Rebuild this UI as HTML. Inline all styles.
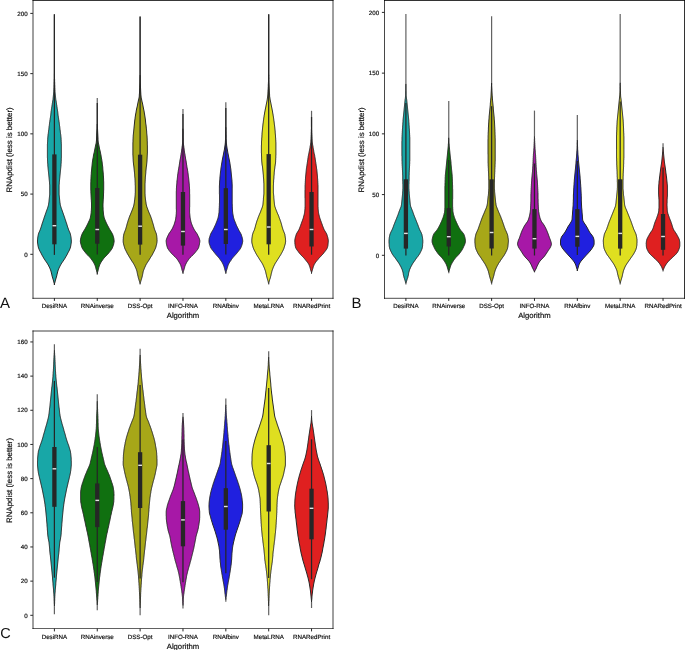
<!DOCTYPE html>
<html><head><meta charset="utf-8"><style>
html,body{margin:0;padding:0;background:#fff;}
body{width:685px;height:650px;overflow:hidden;}
svg{display:block;will-change:transform;font-family:"Liberation Sans",sans-serif;fill:#111;}
text{fill:#111;stroke:#111;stroke-width:0.18px;text-rendering:geometricPrecision;}
</style></head><body>
<svg width="685" height="650" viewBox="0 0 685 650" xmlns="http://www.w3.org/2000/svg">
<rect width="685" height="650" fill="#fff"/>
<path d="M54.4,73.7 L54.4,74.7 L54.3,75.7 L54.3,76.7 L54.3,77.7 L54.3,78.7 L54.2,79.7 L54.2,80.7 L54.2,81.7 L54.1,82.7 L54.1,83.7 L54.1,84.7 L54.0,85.7 L54.0,86.7 L54.0,87.7 L53.9,88.7 L53.9,89.6 L53.8,90.6 L53.8,91.6 L53.7,92.6 L53.6,93.6 L53.5,94.6 L53.4,95.6 L53.3,96.6 L53.2,97.6 L53.1,98.6 L53.0,99.6 L52.8,100.6 L52.6,101.6 L52.5,102.6 L52.3,103.6 L52.2,104.6 L52.0,105.6 L51.9,106.6 L51.7,107.6 L51.6,108.6 L51.4,109.6 L51.3,110.6 L51.1,111.6 L51.0,112.6 L50.9,113.6 L50.8,114.6 L50.7,115.6 L50.5,116.6 L50.4,117.6 L50.2,118.6 L50.1,119.5 L49.9,120.5 L49.8,121.5 L49.6,122.5 L49.5,123.5 L49.4,124.5 L49.3,125.5 L49.1,126.5 L49.0,127.5 L48.9,128.5 L48.8,129.5 L48.6,130.5 L48.5,131.5 L48.4,132.5 L48.3,133.5 L48.1,134.5 L48.0,135.5 L47.9,136.5 L47.8,137.5 L47.7,138.5 L47.7,139.5 L47.6,140.5 L47.6,141.5 L47.5,142.5 L47.5,143.5 L47.4,144.5 L47.4,145.5 L47.4,146.5 L47.4,147.5 L47.4,148.5 L47.4,149.5 L47.4,150.4 L47.4,151.4 L47.4,152.4 L47.4,153.4 L47.4,154.4 L47.4,155.4 L47.4,156.4 L47.4,157.4 L47.5,158.4 L47.5,159.4 L47.5,160.4 L47.6,161.4 L47.6,162.4 L47.7,163.4 L47.8,164.4 L47.8,165.4 L47.9,166.4 L48.0,167.4 L48.1,168.4 L48.2,169.4 L48.3,170.4 L48.4,171.4 L48.5,172.4 L48.6,173.4 L48.7,174.4 L48.8,175.4 L48.9,176.4 L49.0,177.4 L49.1,178.4 L49.2,179.4 L49.3,180.3 L49.4,181.3 L49.5,182.3 L49.5,183.3 L49.6,184.3 L49.7,185.3 L49.7,186.3 L49.7,187.3 L49.7,188.3 L49.7,189.3 L49.7,190.3 L49.7,191.3 L49.7,192.3 L49.7,193.3 L49.7,194.3 L49.6,195.3 L49.5,196.3 L49.4,197.3 L49.3,198.3 L49.2,199.3 L49.1,200.3 L49.0,201.3 L48.9,202.3 L48.7,203.3 L48.6,204.3 L48.4,205.3 L48.1,206.3 L47.8,207.3 L47.5,208.3 L47.1,209.3 L46.8,210.2 L46.4,211.2 L46.1,212.2 L45.7,213.2 L45.4,214.2 L45.0,215.2 L44.7,216.2 L44.3,217.2 L44.0,218.2 L43.7,219.2 L43.3,220.2 L43.0,221.2 L42.7,222.2 L42.3,223.2 L42.0,224.2 L41.7,225.2 L41.4,226.2 L41.1,227.2 L40.7,228.2 L40.4,229.2 L40.0,230.2 L39.6,231.2 L39.1,232.2 L38.7,233.2 L38.4,234.2 L38.2,235.2 L38.0,236.2 L37.8,237.2 L37.7,238.2 L37.6,239.2 L37.5,240.1 L37.5,241.1 L37.5,242.1 L37.6,243.1 L37.8,244.1 L37.9,245.1 L38.1,246.1 L38.3,247.1 L38.6,248.1 L39.0,249.1 L39.4,250.1 L39.9,251.1 L40.5,252.1 L41.0,253.1 L41.5,254.1 L42.0,255.1 L42.6,256.1 L43.2,257.1 L43.7,258.1 L44.4,259.1 L45.0,260.1 L45.7,261.1 L46.4,262.1 L47.1,263.1 L47.7,264.1 L48.3,265.1 L48.8,266.1 L49.3,267.1 L49.8,268.1 L50.2,269.1 L50.6,270.0 L50.9,271.0 L51.2,272.0 L51.4,273.0 L51.7,274.0 L51.9,275.0 L52.1,276.0 L52.4,277.0 L52.7,278.0 L53.0,279.0 L53.3,280.0 L53.6,281.0 L53.8,282.0 L54.1,283.0 L54.4,284.0 L54.4,285.0 L54.4,285.0 L54.4,284.0 L54.7,283.0 L55.0,282.0 L55.2,281.0 L55.5,280.0 L55.8,279.0 L56.1,278.0 L56.4,277.0 L56.7,276.0 L56.9,275.0 L57.1,274.0 L57.4,273.0 L57.6,272.0 L57.9,271.0 L58.2,270.0 L58.6,269.1 L59.0,268.1 L59.5,267.1 L60.0,266.1 L60.5,265.1 L61.1,264.1 L61.7,263.1 L62.4,262.1 L63.1,261.1 L63.8,260.1 L64.4,259.1 L65.1,258.1 L65.6,257.1 L66.2,256.1 L66.8,255.1 L67.3,254.1 L67.8,253.1 L68.3,252.1 L68.9,251.1 L69.4,250.1 L69.8,249.1 L70.2,248.1 L70.5,247.1 L70.7,246.1 L70.9,245.1 L71.0,244.1 L71.2,243.1 L71.3,242.1 L71.3,241.1 L71.3,240.1 L71.2,239.2 L71.1,238.2 L71.0,237.2 L70.8,236.2 L70.6,235.2 L70.4,234.2 L70.1,233.2 L69.7,232.2 L69.2,231.2 L68.8,230.2 L68.4,229.2 L68.1,228.2 L67.7,227.2 L67.4,226.2 L67.1,225.2 L66.8,224.2 L66.5,223.2 L66.1,222.2 L65.8,221.2 L65.5,220.2 L65.1,219.2 L64.8,218.2 L64.5,217.2 L64.1,216.2 L63.8,215.2 L63.4,214.2 L63.1,213.2 L62.7,212.2 L62.4,211.2 L62.0,210.2 L61.7,209.3 L61.3,208.3 L61.0,207.3 L60.7,206.3 L60.4,205.3 L60.2,204.3 L60.1,203.3 L59.9,202.3 L59.8,201.3 L59.7,200.3 L59.6,199.3 L59.5,198.3 L59.4,197.3 L59.3,196.3 L59.2,195.3 L59.1,194.3 L59.1,193.3 L59.1,192.3 L59.1,191.3 L59.1,190.3 L59.1,189.3 L59.1,188.3 L59.1,187.3 L59.1,186.3 L59.1,185.3 L59.2,184.3 L59.3,183.3 L59.3,182.3 L59.4,181.3 L59.5,180.3 L59.6,179.4 L59.7,178.4 L59.8,177.4 L59.9,176.4 L60.0,175.4 L60.1,174.4 L60.2,173.4 L60.3,172.4 L60.4,171.4 L60.5,170.4 L60.6,169.4 L60.7,168.4 L60.8,167.4 L60.9,166.4 L61.0,165.4 L61.0,164.4 L61.1,163.4 L61.2,162.4 L61.2,161.4 L61.3,160.4 L61.3,159.4 L61.3,158.4 L61.4,157.4 L61.4,156.4 L61.4,155.4 L61.4,154.4 L61.4,153.4 L61.4,152.4 L61.4,151.4 L61.4,150.4 L61.4,149.5 L61.4,148.5 L61.4,147.5 L61.4,146.5 L61.4,145.5 L61.4,144.5 L61.3,143.5 L61.3,142.5 L61.2,141.5 L61.2,140.5 L61.1,139.5 L61.1,138.5 L61.0,137.5 L60.9,136.5 L60.8,135.5 L60.7,134.5 L60.5,133.5 L60.4,132.5 L60.3,131.5 L60.2,130.5 L60.0,129.5 L59.9,128.5 L59.8,127.5 L59.7,126.5 L59.5,125.5 L59.4,124.5 L59.3,123.5 L59.2,122.5 L59.0,121.5 L58.9,120.5 L58.7,119.5 L58.6,118.6 L58.4,117.6 L58.3,116.6 L58.1,115.6 L58.0,114.6 L57.9,113.6 L57.8,112.6 L57.7,111.6 L57.5,110.6 L57.4,109.6 L57.2,108.6 L57.1,107.6 L56.9,106.6 L56.8,105.6 L56.6,104.6 L56.5,103.6 L56.3,102.6 L56.2,101.6 L56.0,100.6 L55.8,99.6 L55.7,98.6 L55.6,97.6 L55.5,96.6 L55.4,95.6 L55.3,94.6 L55.2,93.6 L55.1,92.6 L55.0,91.6 L55.0,90.6 L54.9,89.6 L54.9,88.7 L54.8,87.7 L54.8,86.7 L54.8,85.7 L54.7,84.7 L54.7,83.7 L54.7,82.7 L54.6,81.7 L54.6,80.7 L54.6,79.7 L54.5,78.7 L54.5,77.7 L54.5,76.7 L54.5,75.7 L54.4,74.7 L54.4,73.7Z" fill="#18a7a7" stroke="#262626" stroke-width="1.0" stroke-linejoin="round"/>
<line x1="54.40" y1="13.9" x2="54.40" y2="73.7" stroke="#262626" stroke-opacity="0.72" stroke-width="1.2"/>
<line x1="54.40" y1="14.5" x2="54.40" y2="254.9" stroke="#262626" stroke-width="1.25"/>
<rect x="52.25" y="154.4" width="4.3" height="89.90" fill="#262626"/>
<rect x="52.55" y="225.00" width="3.7" height="1.4" fill="#e4e4e4"/>
<path d="M97.2,124.0 L97.2,125.0 L97.1,126.0 L97.1,127.0 L97.0,128.0 L97.0,129.0 L96.9,130.0 L96.9,131.0 L96.8,132.0 L96.8,133.0 L96.7,134.0 L96.7,135.0 L96.7,136.0 L96.6,137.0 L96.6,138.0 L96.5,139.0 L96.5,140.0 L96.4,141.0 L96.3,142.0 L96.2,142.9 L96.0,143.9 L95.7,144.9 L95.5,145.9 L95.3,146.9 L95.1,147.9 L94.9,148.9 L94.7,149.9 L94.5,150.9 L94.3,151.9 L94.1,152.9 L93.8,153.9 L93.6,154.9 L93.4,155.9 L93.3,156.9 L93.1,157.9 L92.9,158.9 L92.7,159.9 L92.6,160.9 L92.4,161.9 L92.3,162.9 L92.2,163.9 L92.1,164.9 L92.0,165.9 L91.9,166.9 L91.8,167.9 L91.7,168.9 L91.6,169.9 L91.5,170.9 L91.4,171.9 L91.3,172.9 L91.3,173.9 L91.2,174.9 L91.1,175.9 L91.1,176.9 L91.0,177.9 L91.0,178.9 L90.9,179.9 L90.9,180.9 L90.9,181.9 L90.8,182.9 L90.8,183.9 L90.8,184.9 L90.8,185.9 L90.8,186.9 L90.8,187.9 L90.8,188.9 L90.8,189.9 L90.9,190.9 L90.9,191.9 L90.9,192.9 L91.0,193.9 L91.0,194.9 L91.1,195.9 L91.1,196.9 L91.2,197.9 L91.2,198.9 L91.3,199.9 L91.4,200.9 L91.4,201.9 L91.5,202.9 L91.5,203.9 L91.5,204.9 L91.5,205.9 L91.5,206.9 L91.5,207.9 L91.4,208.9 L91.4,209.9 L91.3,210.9 L91.2,211.9 L91.2,212.9 L91.0,213.9 L90.9,214.9 L90.7,215.9 L90.5,216.9 L90.3,217.9 L90.0,218.9 L89.6,219.9 L89.1,220.9 L88.6,221.9 L88.2,222.9 L87.7,223.9 L87.2,224.9 L86.7,225.9 L86.2,226.9 L85.6,227.9 L85.1,228.9 L84.5,229.9 L83.9,230.8 L83.3,231.8 L82.7,232.8 L82.2,233.8 L81.8,234.8 L81.4,235.8 L81.1,236.8 L80.9,237.8 L80.6,238.8 L80.5,239.8 L80.4,240.8 L80.4,241.8 L80.6,242.8 L80.8,243.8 L81.1,244.8 L81.4,245.8 L81.7,246.8 L82.1,247.8 L82.6,248.8 L83.3,249.8 L84.0,250.8 L84.8,251.8 L85.6,252.8 L86.4,253.8 L87.4,254.8 L88.4,255.8 L89.4,256.8 L90.3,257.8 L91.1,258.8 L91.8,259.8 L92.5,260.8 L93.2,261.8 L93.8,262.8 L94.3,263.8 L94.8,264.8 L95.2,265.8 L95.5,266.8 L95.8,267.8 L96.0,268.8 L96.3,269.8 L96.6,270.8 L96.8,271.8 L97.1,272.8 L97.3,273.8 L97.3,273.8 L97.4,272.8 L97.7,271.8 L98.0,270.8 L98.2,269.8 L98.5,268.8 L98.7,267.8 L99.0,266.8 L99.4,265.8 L99.7,264.8 L100.2,263.8 L100.7,262.8 L101.3,261.8 L102.0,260.8 L102.7,259.8 L103.4,258.8 L104.2,257.8 L105.2,256.8 L106.2,255.8 L107.1,254.8 L108.1,253.8 L108.9,252.8 L109.7,251.8 L110.5,250.8 L111.2,249.8 L111.9,248.8 L112.4,247.8 L112.8,246.8 L113.1,245.8 L113.5,244.8 L113.7,243.8 L113.9,242.8 L114.1,241.8 L114.1,240.8 L114.0,239.8 L113.9,238.8 L113.7,237.8 L113.4,236.8 L113.1,235.8 L112.8,234.8 L112.3,233.8 L111.8,232.8 L111.2,231.8 L110.6,230.8 L110.0,229.9 L109.4,228.9 L108.9,227.9 L108.4,226.9 L107.8,225.9 L107.3,224.9 L106.8,223.9 L106.3,222.9 L105.9,221.9 L105.4,220.9 L105.0,219.9 L104.6,218.9 L104.2,217.9 L104.0,216.9 L103.8,215.9 L103.6,214.9 L103.5,213.9 L103.4,212.9 L103.3,211.9 L103.2,210.9 L103.1,209.9 L103.1,208.9 L103.1,207.9 L103.0,206.9 L103.0,205.9 L103.0,204.9 L103.0,203.9 L103.1,202.9 L103.1,201.9 L103.2,200.9 L103.2,199.9 L103.3,198.9 L103.4,197.9 L103.4,196.9 L103.5,195.9 L103.5,194.9 L103.5,193.9 L103.6,192.9 L103.6,191.9 L103.6,190.9 L103.7,189.9 L103.7,188.9 L103.7,187.9 L103.7,186.9 L103.7,185.9 L103.7,184.9 L103.7,183.9 L103.7,182.9 L103.7,181.9 L103.6,180.9 L103.6,179.9 L103.6,178.9 L103.5,177.9 L103.5,176.9 L103.4,175.9 L103.3,174.9 L103.3,173.9 L103.2,172.9 L103.1,171.9 L103.0,170.9 L102.9,169.9 L102.8,168.9 L102.8,167.9 L102.7,166.9 L102.6,165.9 L102.4,164.9 L102.3,163.9 L102.2,162.9 L102.1,161.9 L101.9,160.9 L101.8,159.9 L101.6,158.9 L101.4,157.9 L101.2,156.9 L101.1,155.9 L100.9,154.9 L100.7,153.9 L100.5,152.9 L100.3,151.9 L100.1,150.9 L99.8,149.9 L99.6,148.9 L99.4,147.9 L99.2,146.9 L99.0,145.9 L98.8,144.9 L98.6,143.9 L98.4,142.9 L98.2,142.0 L98.1,141.0 L98.0,140.0 L98.0,139.0 L98.0,138.0 L97.9,137.0 L97.9,136.0 L97.8,135.0 L97.8,134.0 L97.7,133.0 L97.7,132.0 L97.6,131.0 L97.6,130.0 L97.5,129.0 L97.5,128.0 L97.4,127.0 L97.4,126.0 L97.3,125.0 L97.3,124.0Z" fill="#107010" stroke="#262626" stroke-width="1.0" stroke-linejoin="round"/>
<line x1="97.26" y1="98.0" x2="97.26" y2="124.0" stroke="#262626" stroke-opacity="0.72" stroke-width="1.2"/>
<line x1="97.26" y1="273.8" x2="97.26" y2="274.8" stroke="#262626" stroke-opacity="0.72" stroke-width="1.2"/>
<line x1="97.26" y1="103" x2="97.26" y2="254.6" stroke="#262626" stroke-width="1.25"/>
<rect x="95.11" y="188.0" width="4.3" height="55.70" fill="#262626"/>
<rect x="95.41" y="228.80" width="3.7" height="1.4" fill="#e4e4e4"/>
<path d="M140.1,75.1 L140.1,76.1 L140.0,77.1 L140.0,78.1 L140.0,79.1 L139.9,80.1 L139.9,81.1 L139.9,82.1 L139.8,83.1 L139.8,84.0 L139.8,85.0 L139.7,86.0 L139.7,87.0 L139.7,88.0 L139.6,89.0 L139.6,90.0 L139.6,91.0 L139.5,92.0 L139.5,93.0 L139.4,94.0 L139.3,95.0 L139.3,96.0 L139.2,97.0 L139.0,98.0 L138.8,99.0 L138.5,100.0 L138.3,101.0 L138.1,102.0 L137.9,103.0 L137.7,104.0 L137.5,105.0 L137.3,106.0 L137.1,107.0 L136.8,108.0 L136.6,109.0 L136.4,110.0 L136.2,111.0 L136.1,112.0 L135.9,113.0 L135.7,114.0 L135.5,115.0 L135.4,116.0 L135.2,117.0 L135.1,118.0 L135.0,119.0 L134.8,120.0 L134.7,121.0 L134.6,122.0 L134.5,123.0 L134.4,124.0 L134.3,125.0 L134.2,126.0 L134.1,127.0 L134.0,128.0 L133.9,128.9 L133.8,129.9 L133.7,130.9 L133.6,131.9 L133.5,132.9 L133.4,133.9 L133.3,134.9 L133.2,135.9 L133.2,136.9 L133.1,137.9 L133.1,138.9 L133.0,139.9 L133.0,140.9 L133.0,141.9 L132.9,142.9 L132.9,143.9 L132.9,144.9 L132.9,145.9 L132.9,146.9 L132.9,147.9 L132.9,148.9 L132.9,149.9 L132.9,150.9 L132.9,151.9 L132.9,152.9 L132.9,153.9 L132.9,154.9 L133.0,155.9 L133.0,156.9 L133.1,157.9 L133.1,158.9 L133.2,159.9 L133.2,160.9 L133.3,161.9 L133.4,162.9 L133.5,163.9 L133.6,164.9 L133.8,165.9 L133.9,166.9 L134.0,167.9 L134.1,168.9 L134.2,169.9 L134.3,170.9 L134.4,171.9 L134.5,172.8 L134.6,173.8 L134.7,174.8 L134.7,175.8 L134.8,176.8 L134.9,177.8 L135.0,178.8 L135.0,179.8 L135.1,180.8 L135.1,181.8 L135.2,182.8 L135.2,183.8 L135.2,184.8 L135.3,185.8 L135.3,186.8 L135.3,187.8 L135.3,188.8 L135.3,189.8 L135.3,190.8 L135.3,191.8 L135.3,192.8 L135.2,193.8 L135.2,194.8 L135.1,195.8 L135.0,196.8 L134.9,197.8 L134.8,198.8 L134.7,199.8 L134.5,200.8 L134.4,201.8 L134.3,202.8 L134.1,203.8 L133.9,204.8 L133.7,205.8 L133.4,206.8 L133.0,207.8 L132.7,208.8 L132.3,209.8 L131.9,210.8 L131.5,211.8 L131.1,212.8 L130.7,213.8 L130.3,214.8 L129.8,215.8 L129.5,216.8 L129.1,217.7 L128.8,218.7 L128.4,219.7 L128.1,220.7 L127.8,221.7 L127.5,222.7 L127.2,223.7 L126.9,224.7 L126.7,225.7 L126.4,226.7 L126.1,227.7 L125.8,228.7 L125.5,229.7 L125.1,230.7 L124.7,231.7 L124.3,232.7 L124.0,233.7 L123.7,234.7 L123.6,235.7 L123.4,236.7 L123.3,237.7 L123.3,238.7 L123.2,239.7 L123.2,240.7 L123.2,241.7 L123.3,242.7 L123.5,243.7 L123.7,244.7 L124.0,245.7 L124.3,246.7 L124.6,247.7 L124.9,248.7 L125.4,249.7 L125.9,250.7 L126.4,251.7 L126.9,252.7 L127.4,253.7 L128.0,254.7 L128.6,255.7 L129.2,256.7 L129.8,257.7 L130.4,258.7 L131.0,259.7 L131.6,260.7 L132.3,261.7 L132.9,262.6 L133.5,263.6 L134.1,264.6 L134.6,265.6 L135.1,266.6 L135.5,267.6 L136.0,268.6 L136.4,269.6 L136.7,270.6 L137.0,271.6 L137.2,272.6 L137.4,273.6 L137.6,274.6 L137.8,275.6 L138.1,276.6 L138.3,277.6 L138.6,278.6 L138.9,279.6 L139.2,280.6 L139.5,281.6 L139.8,282.6 L140.1,283.6 L140.1,283.6 L140.4,282.6 L140.7,281.6 L141.0,280.6 L141.3,279.6 L141.6,278.6 L141.9,277.6 L142.2,276.6 L142.4,275.6 L142.6,274.6 L142.8,273.6 L143.0,272.6 L143.2,271.6 L143.5,270.6 L143.9,269.6 L144.3,268.6 L144.7,267.6 L145.2,266.6 L145.6,265.6 L146.1,264.6 L146.7,263.6 L147.3,262.6 L147.9,261.7 L148.6,260.7 L149.2,259.7 L149.8,258.7 L150.4,257.7 L151.0,256.7 L151.7,255.7 L152.3,254.7 L152.8,253.7 L153.3,252.7 L153.8,251.7 L154.4,250.7 L154.8,249.7 L155.3,248.7 L155.7,247.7 L156.0,246.7 L156.2,245.7 L156.5,244.7 L156.7,243.7 L156.9,242.7 L157.0,241.7 L157.1,240.7 L157.0,239.7 L157.0,238.7 L156.9,237.7 L156.8,236.7 L156.7,235.7 L156.5,234.7 L156.3,233.7 L155.9,232.7 L155.5,231.7 L155.1,230.7 L154.7,229.7 L154.4,228.7 L154.1,227.7 L153.8,226.7 L153.6,225.7 L153.3,224.7 L153.0,223.7 L152.7,222.7 L152.4,221.7 L152.1,220.7 L151.8,219.7 L151.5,218.7 L151.1,217.7 L150.8,216.8 L150.4,215.8 L150.0,214.8 L149.5,213.8 L149.1,212.8 L148.7,211.8 L148.3,210.8 L147.9,209.8 L147.6,208.8 L147.2,207.8 L146.8,206.8 L146.6,205.8 L146.3,204.8 L146.1,203.8 L146.0,202.8 L145.8,201.8 L145.7,200.8 L145.5,199.8 L145.4,198.8 L145.3,197.8 L145.2,196.8 L145.1,195.8 L145.1,194.8 L145.0,193.8 L145.0,192.8 L145.0,191.8 L145.0,190.8 L145.0,189.8 L145.0,188.8 L145.0,187.8 L145.0,186.8 L145.0,185.8 L145.0,184.8 L145.0,183.8 L145.1,182.8 L145.1,181.8 L145.2,180.8 L145.2,179.8 L145.3,178.8 L145.3,177.8 L145.4,176.8 L145.5,175.8 L145.6,174.8 L145.7,173.8 L145.8,172.8 L145.8,171.9 L145.9,170.9 L146.0,169.9 L146.1,168.9 L146.2,167.9 L146.3,166.9 L146.5,165.9 L146.6,164.9 L146.7,163.9 L146.8,162.9 L146.9,161.9 L147.0,160.9 L147.0,159.9 L147.1,158.9 L147.1,157.9 L147.2,156.9 L147.2,155.9 L147.3,154.9 L147.3,153.9 L147.4,152.9 L147.4,151.9 L147.4,150.9 L147.4,149.9 L147.4,148.9 L147.4,147.9 L147.4,146.9 L147.4,145.9 L147.3,144.9 L147.3,143.9 L147.3,142.9 L147.3,141.9 L147.2,140.9 L147.2,139.9 L147.2,138.9 L147.1,137.9 L147.1,136.9 L147.0,135.9 L146.9,134.9 L146.8,133.9 L146.7,132.9 L146.7,131.9 L146.6,130.9 L146.5,129.9 L146.4,128.9 L146.3,128.0 L146.2,127.0 L146.1,126.0 L146.0,125.0 L145.8,124.0 L145.7,123.0 L145.6,122.0 L145.5,121.0 L145.4,120.0 L145.3,119.0 L145.1,118.0 L145.0,117.0 L144.8,116.0 L144.7,115.0 L144.5,114.0 L144.3,113.0 L144.2,112.0 L144.0,111.0 L143.8,110.0 L143.6,109.0 L143.4,108.0 L143.2,107.0 L143.0,106.0 L142.8,105.0 L142.6,104.0 L142.4,103.0 L142.1,102.0 L141.9,101.0 L141.7,100.0 L141.5,99.0 L141.2,98.0 L141.1,97.0 L141.0,96.0 L140.9,95.0 L140.8,94.0 L140.8,93.0 L140.7,92.0 L140.7,91.0 L140.6,90.0 L140.6,89.0 L140.5,88.0 L140.5,87.0 L140.5,86.0 L140.4,85.0 L140.4,84.0 L140.4,83.1 L140.3,82.1 L140.3,81.1 L140.3,80.1 L140.2,79.1 L140.2,78.1 L140.2,77.1 L140.2,76.1 L140.1,75.1Z" fill="#a7a718" stroke="#262626" stroke-width="1.0" stroke-linejoin="round"/>
<line x1="140.11" y1="16.2" x2="140.11" y2="75.1" stroke="#262626" stroke-opacity="0.72" stroke-width="1.2"/>
<line x1="140.11" y1="283.6" x2="140.11" y2="284.6" stroke="#262626" stroke-opacity="0.72" stroke-width="1.2"/>
<line x1="140.11" y1="16.8" x2="140.11" y2="254.7" stroke="#262626" stroke-width="1.25"/>
<rect x="137.96" y="154.7" width="4.3" height="89.90" fill="#262626"/>
<rect x="138.26" y="225.50" width="3.7" height="1.4" fill="#e4e4e4"/>
<path d="M182.9,128.9 L182.9,129.8 L182.9,130.8 L182.9,131.8 L182.9,132.8 L182.9,133.8 L182.8,134.8 L182.8,135.8 L182.8,136.8 L182.8,137.8 L182.8,138.8 L182.8,139.8 L182.7,140.8 L182.7,141.8 L182.6,142.8 L182.5,143.8 L182.4,144.8 L182.3,145.8 L182.1,146.8 L182.0,147.8 L181.9,148.8 L181.7,149.8 L181.6,150.8 L181.5,151.8 L181.3,152.8 L181.1,153.8 L181.0,154.8 L180.8,155.8 L180.7,156.8 L180.5,157.8 L180.3,158.8 L180.1,159.8 L179.9,160.8 L179.8,161.8 L179.6,162.8 L179.5,163.8 L179.3,164.8 L179.2,165.8 L179.0,166.8 L178.8,167.8 L178.7,168.8 L178.5,169.8 L178.3,170.7 L178.2,171.7 L178.0,172.7 L177.9,173.7 L177.7,174.7 L177.6,175.7 L177.5,176.7 L177.4,177.7 L177.3,178.7 L177.2,179.7 L177.0,180.7 L176.9,181.7 L176.9,182.7 L176.8,183.7 L176.7,184.7 L176.6,185.7 L176.5,186.7 L176.5,187.7 L176.4,188.7 L176.4,189.7 L176.4,190.7 L176.3,191.7 L176.3,192.7 L176.3,193.7 L176.3,194.7 L176.3,195.7 L176.3,196.7 L176.3,197.7 L176.3,198.7 L176.3,199.7 L176.3,200.7 L176.3,201.7 L176.3,202.7 L176.3,203.7 L176.3,204.7 L176.3,205.7 L176.3,206.7 L176.3,207.7 L176.3,208.7 L176.4,209.7 L176.4,210.7 L176.4,211.7 L176.3,212.6 L176.3,213.6 L176.2,214.6 L176.1,215.6 L176.0,216.6 L175.8,217.6 L175.7,218.6 L175.5,219.6 L175.3,220.6 L175.0,221.6 L174.7,222.6 L174.4,223.6 L174.1,224.6 L173.7,225.6 L173.2,226.6 L172.8,227.6 L172.3,228.6 L171.7,229.6 L171.1,230.6 L170.4,231.6 L169.7,232.6 L169.0,233.6 L168.5,234.6 L168.0,235.6 L167.5,236.6 L167.1,237.6 L166.7,238.6 L166.4,239.6 L166.2,240.6 L166.2,241.6 L166.3,242.6 L166.4,243.6 L166.6,244.6 L166.8,245.6 L167.1,246.6 L167.4,247.6 L167.8,248.6 L168.5,249.6 L169.2,250.6 L170.0,251.6 L170.8,252.6 L171.6,253.5 L172.6,254.5 L173.6,255.5 L174.7,256.5 L175.7,257.5 L176.6,258.5 L177.4,259.5 L178.1,260.5 L178.7,261.5 L179.3,262.5 L179.9,263.5 L180.4,264.5 L180.8,265.5 L181.1,266.5 L181.4,267.5 L181.7,268.5 L181.9,269.5 L182.2,270.5 L182.5,271.5 L182.9,272.5 L183.0,273.5 L183.0,273.5 L183.0,272.5 L183.4,271.5 L183.7,270.5 L184.0,269.5 L184.3,268.5 L184.6,267.5 L184.8,266.5 L185.2,265.5 L185.6,264.5 L186.1,263.5 L186.6,262.5 L187.2,261.5 L187.9,260.5 L188.6,259.5 L189.3,258.5 L190.2,257.5 L191.3,256.5 L192.3,255.5 L193.4,254.5 L194.3,253.5 L195.1,252.6 L195.9,251.6 L196.7,250.6 L197.5,249.6 L198.1,248.6 L198.6,247.6 L198.9,246.6 L199.1,245.6 L199.4,244.6 L199.5,243.6 L199.7,242.6 L199.8,241.6 L199.8,240.6 L199.6,239.6 L199.3,238.6 L198.9,237.6 L198.4,236.6 L197.9,235.6 L197.5,234.6 L196.9,233.6 L196.2,232.6 L195.5,231.6 L194.8,230.6 L194.2,229.6 L193.7,228.6 L193.2,227.6 L192.7,226.6 L192.3,225.6 L191.9,224.6 L191.5,223.6 L191.2,222.6 L190.9,221.6 L190.7,220.6 L190.5,219.6 L190.3,218.6 L190.1,217.6 L190.0,216.6 L189.9,215.6 L189.8,214.6 L189.7,213.6 L189.6,212.6 L189.6,211.7 L189.6,210.7 L189.6,209.7 L189.6,208.7 L189.6,207.7 L189.7,206.7 L189.7,205.7 L189.7,204.7 L189.7,203.7 L189.7,202.7 L189.7,201.7 L189.7,200.7 L189.7,199.7 L189.7,198.7 L189.7,197.7 L189.7,196.7 L189.7,195.7 L189.7,194.7 L189.6,193.7 L189.6,192.7 L189.6,191.7 L189.6,190.7 L189.6,189.7 L189.5,188.7 L189.5,187.7 L189.4,186.7 L189.3,185.7 L189.3,184.7 L189.2,183.7 L189.1,182.7 L189.0,181.7 L188.9,180.7 L188.8,179.7 L188.7,178.7 L188.6,177.7 L188.4,176.7 L188.3,175.7 L188.2,174.7 L188.1,173.7 L187.9,172.7 L187.8,171.7 L187.6,170.7 L187.5,169.8 L187.3,168.8 L187.1,167.8 L186.9,166.8 L186.8,165.8 L186.6,164.8 L186.5,163.8 L186.3,162.8 L186.2,161.8 L186.0,160.8 L185.8,159.8 L185.6,158.8 L185.5,157.8 L185.3,156.8 L185.1,155.8 L185.0,154.8 L184.8,153.8 L184.6,152.8 L184.5,151.8 L184.3,150.8 L184.2,149.8 L184.1,148.8 L183.9,147.8 L183.8,146.8 L183.7,145.8 L183.5,144.8 L183.4,143.8 L183.3,142.8 L183.2,141.8 L183.2,140.8 L183.2,139.8 L183.2,138.8 L183.1,137.8 L183.1,136.8 L183.1,135.8 L183.1,134.8 L183.1,133.8 L183.1,132.8 L183.1,131.8 L183.0,130.8 L183.0,129.8 L183.0,128.9Z" fill="#a718a7" stroke="#262626" stroke-width="1.0" stroke-linejoin="round"/>
<line x1="182.97" y1="108.9" x2="182.97" y2="128.9" stroke="#262626" stroke-opacity="0.72" stroke-width="1.2"/>
<line x1="182.97" y1="114" x2="182.97" y2="254.7" stroke="#262626" stroke-width="1.25"/>
<rect x="180.82" y="192.0" width="4.3" height="53.60" fill="#262626"/>
<rect x="181.12" y="230.80" width="3.7" height="1.4" fill="#e4e4e4"/>
<path d="M225.8,127.1 L225.8,128.1 L225.8,129.1 L225.7,130.1 L225.7,131.1 L225.7,132.1 L225.7,133.1 L225.6,134.1 L225.6,135.1 L225.6,136.1 L225.6,137.1 L225.5,138.1 L225.5,139.0 L225.5,140.0 L225.4,141.0 L225.4,142.0 L225.3,143.0 L225.2,144.0 L225.1,145.0 L224.9,146.0 L224.8,147.0 L224.6,148.0 L224.5,149.0 L224.3,150.0 L224.1,151.0 L223.9,152.0 L223.7,153.0 L223.5,154.0 L223.3,155.0 L223.1,156.0 L222.9,157.0 L222.7,158.0 L222.5,159.0 L222.3,160.0 L222.1,161.0 L222.0,162.0 L221.8,163.0 L221.6,163.9 L221.5,164.9 L221.3,165.9 L221.2,166.9 L221.0,167.9 L220.9,168.9 L220.8,169.9 L220.7,170.9 L220.5,171.9 L220.4,172.9 L220.3,173.9 L220.2,174.9 L220.1,175.9 L220.0,176.9 L219.9,177.9 L219.9,178.9 L219.8,179.9 L219.7,180.9 L219.6,181.9 L219.6,182.9 L219.5,183.9 L219.5,184.9 L219.4,185.9 L219.4,186.9 L219.4,187.9 L219.4,188.8 L219.4,189.8 L219.4,190.8 L219.4,191.8 L219.4,192.8 L219.4,193.8 L219.5,194.8 L219.5,195.8 L219.5,196.8 L219.5,197.8 L219.5,198.8 L219.5,199.8 L219.5,200.8 L219.5,201.8 L219.5,202.8 L219.4,203.8 L219.4,204.8 L219.4,205.8 L219.3,206.8 L219.3,207.8 L219.2,208.8 L219.2,209.8 L219.1,210.8 L219.1,211.8 L219.0,212.7 L218.8,213.7 L218.7,214.7 L218.5,215.7 L218.3,216.7 L218.1,217.7 L217.8,218.7 L217.4,219.7 L217.1,220.7 L216.7,221.7 L216.3,222.7 L215.9,223.7 L215.5,224.7 L215.0,225.7 L214.5,226.7 L214.1,227.7 L213.6,228.7 L213.1,229.7 L212.5,230.7 L211.9,231.7 L211.3,232.7 L210.8,233.7 L210.4,234.7 L210.1,235.7 L209.8,236.7 L209.5,237.6 L209.2,238.6 L209.1,239.6 L209.0,240.6 L209.0,241.6 L209.1,242.6 L209.3,243.6 L209.6,244.6 L210.0,245.6 L210.3,246.6 L210.7,247.6 L211.3,248.6 L212.0,249.6 L212.8,250.6 L213.6,251.6 L214.4,252.6 L215.2,253.6 L216.0,254.6 L216.9,255.6 L217.8,256.6 L218.7,257.6 L219.5,258.6 L220.2,259.6 L220.9,260.6 L221.6,261.5 L222.2,262.5 L222.7,263.5 L223.2,264.5 L223.6,265.5 L224.0,266.5 L224.3,267.5 L224.6,268.5 L224.8,269.5 L225.1,270.5 L225.4,271.5 L225.8,272.5 L225.8,273.5 L225.8,273.5 L225.9,272.5 L226.2,271.5 L226.5,270.5 L226.8,269.5 L227.1,268.5 L227.4,267.5 L227.7,266.5 L228.0,265.5 L228.4,264.5 L228.9,263.5 L229.5,262.5 L230.1,261.5 L230.8,260.6 L231.4,259.6 L232.1,258.6 L232.9,257.6 L233.8,256.6 L234.7,255.6 L235.6,254.6 L236.5,253.6 L237.3,252.6 L238.1,251.6 L238.9,250.6 L239.7,249.6 L240.4,248.6 L240.9,247.6 L241.3,246.6 L241.7,245.6 L242.0,244.6 L242.3,243.6 L242.5,242.6 L242.7,241.6 L242.7,240.6 L242.6,239.6 L242.4,238.6 L242.2,237.6 L241.9,236.7 L241.6,235.7 L241.3,234.7 L240.8,233.7 L240.3,232.7 L239.7,231.7 L239.1,230.7 L238.6,229.7 L238.1,228.7 L237.6,227.7 L237.1,226.7 L236.6,225.7 L236.2,224.7 L235.8,223.7 L235.4,222.7 L235.0,221.7 L234.6,220.7 L234.2,219.7 L233.9,218.7 L233.6,217.7 L233.4,216.7 L233.2,215.7 L233.0,214.7 L232.8,213.7 L232.7,212.7 L232.6,211.8 L232.5,210.8 L232.5,209.8 L232.4,208.8 L232.4,207.8 L232.3,206.8 L232.3,205.8 L232.3,204.8 L232.2,203.8 L232.2,202.8 L232.2,201.8 L232.2,200.8 L232.2,199.8 L232.2,198.8 L232.2,197.8 L232.2,196.8 L232.2,195.8 L232.2,194.8 L232.2,193.8 L232.2,192.8 L232.2,191.8 L232.2,190.8 L232.2,189.8 L232.2,188.8 L232.2,187.9 L232.2,186.9 L232.2,185.9 L232.2,184.9 L232.1,183.9 L232.1,182.9 L232.0,181.9 L232.0,180.9 L231.9,179.9 L231.8,178.9 L231.7,177.9 L231.6,176.9 L231.5,175.9 L231.4,174.9 L231.3,173.9 L231.2,172.9 L231.1,171.9 L231.0,170.9 L230.9,169.9 L230.8,168.9 L230.6,167.9 L230.5,166.9 L230.3,165.9 L230.2,164.9 L230.0,163.9 L229.9,163.0 L229.7,162.0 L229.5,161.0 L229.3,160.0 L229.1,159.0 L228.9,158.0 L228.7,157.0 L228.5,156.0 L228.3,155.0 L228.1,154.0 L227.9,153.0 L227.7,152.0 L227.6,151.0 L227.4,150.0 L227.2,149.0 L227.0,148.0 L226.9,147.0 L226.7,146.0 L226.6,145.0 L226.5,144.0 L226.3,143.0 L226.3,142.0 L226.2,141.0 L226.2,140.0 L226.1,139.0 L226.1,138.1 L226.1,137.1 L226.1,136.1 L226.1,135.1 L226.0,134.1 L226.0,133.1 L226.0,132.1 L225.9,131.1 L225.9,130.1 L225.9,129.1 L225.9,128.1 L225.8,127.1Z" fill="#2020df" stroke="#262626" stroke-width="1.0" stroke-linejoin="round"/>
<line x1="225.83" y1="102.2" x2="225.83" y2="127.1" stroke="#262626" stroke-opacity="0.72" stroke-width="1.2"/>
<line x1="225.83" y1="108" x2="225.83" y2="254.5" stroke="#262626" stroke-width="1.25"/>
<rect x="223.68" y="188.2" width="4.3" height="55.80" fill="#262626"/>
<rect x="223.98" y="228.80" width="3.7" height="1.4" fill="#e4e4e4"/>
<path d="M268.7,74.9 L268.7,75.9 L268.6,76.9 L268.6,77.9 L268.6,78.9 L268.5,79.9 L268.5,80.9 L268.5,81.9 L268.4,82.9 L268.4,83.9 L268.3,84.9 L268.3,85.9 L268.3,86.9 L268.2,87.9 L268.2,88.9 L268.1,89.9 L268.0,90.9 L268.0,91.9 L267.9,92.9 L267.9,93.9 L267.8,94.9 L267.7,95.9 L267.6,96.9 L267.5,97.9 L267.3,98.9 L267.2,99.9 L267.0,100.9 L266.8,101.9 L266.6,102.9 L266.4,103.9 L266.2,104.9 L266.0,105.9 L265.8,106.9 L265.6,107.9 L265.4,108.9 L265.2,109.9 L265.0,110.9 L264.8,111.9 L264.6,112.9 L264.5,113.9 L264.3,114.9 L264.1,115.8 L264.0,116.8 L263.8,117.8 L263.7,118.8 L263.6,119.8 L263.4,120.8 L263.3,121.8 L263.2,122.8 L263.0,123.8 L262.9,124.8 L262.8,125.8 L262.7,126.8 L262.6,127.8 L262.5,128.8 L262.4,129.8 L262.3,130.8 L262.2,131.8 L262.1,132.8 L262.0,133.8 L262.0,134.8 L261.9,135.8 L261.9,136.8 L261.8,137.8 L261.7,138.8 L261.7,139.8 L261.6,140.8 L261.5,141.8 L261.5,142.8 L261.5,143.8 L261.5,144.8 L261.4,145.8 L261.4,146.8 L261.4,147.8 L261.4,148.8 L261.4,149.8 L261.4,150.8 L261.4,151.8 L261.4,152.8 L261.5,153.8 L261.5,154.8 L261.5,155.8 L261.6,156.8 L261.6,157.8 L261.6,158.8 L261.7,159.8 L261.7,160.8 L261.8,161.8 L261.9,162.8 L262.0,163.8 L262.1,164.8 L262.3,165.8 L262.5,166.8 L262.6,167.8 L262.7,168.8 L262.8,169.8 L262.9,170.8 L263.0,171.8 L263.1,172.8 L263.2,173.8 L263.3,174.8 L263.4,175.8 L263.4,176.8 L263.5,177.8 L263.6,178.8 L263.7,179.8 L263.7,180.8 L263.8,181.8 L263.8,182.8 L263.9,183.7 L263.9,184.7 L263.9,185.7 L263.9,186.7 L263.9,187.7 L263.9,188.7 L263.9,189.7 L263.9,190.7 L263.9,191.7 L263.9,192.7 L263.9,193.7 L263.8,194.7 L263.7,195.7 L263.6,196.7 L263.5,197.7 L263.4,198.7 L263.4,199.7 L263.3,200.7 L263.2,201.7 L263.1,202.7 L263.0,203.7 L262.9,204.7 L262.7,205.7 L262.4,206.7 L262.1,207.7 L261.7,208.7 L261.3,209.7 L260.9,210.7 L260.6,211.7 L260.2,212.7 L259.7,213.7 L259.3,214.7 L258.9,215.7 L258.5,216.7 L258.1,217.7 L257.8,218.7 L257.4,219.7 L257.0,220.7 L256.7,221.7 L256.4,222.7 L256.1,223.7 L255.8,224.7 L255.5,225.7 L255.3,226.7 L255.0,227.7 L254.7,228.7 L254.4,229.7 L254.0,230.7 L253.5,231.7 L253.1,232.7 L252.8,233.7 L252.5,234.7 L252.3,235.7 L252.2,236.7 L252.0,237.7 L251.9,238.7 L251.8,239.7 L251.8,240.7 L251.8,241.7 L251.9,242.7 L252.1,243.7 L252.4,244.7 L252.6,245.7 L252.9,246.7 L253.2,247.7 L253.6,248.7 L254.0,249.7 L254.5,250.7 L255.0,251.6 L255.5,252.6 L256.0,253.6 L256.6,254.6 L257.2,255.6 L257.8,256.6 L258.5,257.6 L259.1,258.6 L259.7,259.6 L260.4,260.6 L261.0,261.6 L261.7,262.6 L262.3,263.6 L262.8,264.6 L263.3,265.6 L263.7,266.6 L264.2,267.6 L264.6,268.6 L264.9,269.6 L265.3,270.6 L265.6,271.6 L265.8,272.6 L266.0,273.6 L266.3,274.6 L266.5,275.6 L266.7,276.6 L267.0,277.6 L267.3,278.6 L267.6,279.6 L267.9,280.6 L268.2,281.6 L268.4,282.6 L268.7,283.6 L268.7,283.6 L268.9,282.6 L269.2,281.6 L269.5,280.6 L269.7,279.6 L270.1,278.6 L270.4,277.6 L270.6,276.6 L270.9,275.6 L271.1,274.6 L271.3,273.6 L271.6,272.6 L271.8,271.6 L272.1,270.6 L272.4,269.6 L272.8,268.6 L273.2,267.6 L273.6,266.6 L274.1,265.6 L274.6,264.6 L275.1,263.6 L275.7,262.6 L276.4,261.6 L277.0,260.6 L277.6,259.6 L278.3,258.6 L278.9,257.6 L279.5,256.6 L280.2,255.6 L280.8,254.6 L281.3,253.6 L281.9,252.6 L282.4,251.6 L282.9,250.7 L283.3,249.7 L283.8,248.7 L284.1,247.7 L284.4,246.7 L284.7,245.7 L285.0,244.7 L285.3,243.7 L285.4,242.7 L285.6,241.7 L285.6,240.7 L285.5,239.7 L285.5,238.7 L285.3,237.7 L285.2,236.7 L285.0,235.7 L284.9,234.7 L284.6,233.7 L284.2,232.7 L283.8,231.7 L283.4,230.7 L283.0,229.7 L282.7,228.7 L282.4,227.7 L282.1,226.7 L281.8,225.7 L281.6,224.7 L281.3,223.7 L281.0,222.7 L280.7,221.7 L280.3,220.7 L280.0,219.7 L279.6,218.7 L279.2,217.7 L278.9,216.7 L278.5,215.7 L278.1,214.7 L277.6,213.7 L277.2,212.7 L276.8,211.7 L276.4,210.7 L276.0,209.7 L275.6,208.7 L275.3,207.7 L274.9,206.7 L274.7,205.7 L274.5,204.7 L274.4,203.7 L274.3,202.7 L274.2,201.7 L274.1,200.7 L274.0,199.7 L273.9,198.7 L273.8,197.7 L273.8,196.7 L273.7,195.7 L273.6,194.7 L273.5,193.7 L273.4,192.7 L273.4,191.7 L273.4,190.7 L273.4,189.7 L273.4,188.7 L273.4,187.7 L273.4,186.7 L273.4,185.7 L273.5,184.7 L273.5,183.7 L273.5,182.8 L273.6,181.8 L273.6,180.8 L273.7,179.8 L273.8,178.8 L273.9,177.8 L273.9,176.8 L274.0,175.8 L274.1,174.8 L274.2,173.8 L274.2,172.8 L274.3,171.8 L274.4,170.8 L274.5,169.8 L274.7,168.8 L274.8,167.8 L274.9,166.8 L275.1,165.8 L275.2,164.8 L275.4,163.8 L275.5,162.8 L275.6,161.8 L275.6,160.8 L275.7,159.8 L275.7,158.8 L275.8,157.8 L275.8,156.8 L275.8,155.8 L275.9,154.8 L275.9,153.8 L275.9,152.8 L275.9,151.8 L275.9,150.8 L275.9,149.8 L275.9,148.8 L275.9,147.8 L275.9,146.8 L275.9,145.8 L275.9,144.8 L275.9,143.8 L275.9,142.8 L275.8,141.8 L275.8,140.8 L275.7,139.8 L275.7,138.8 L275.6,137.8 L275.5,136.8 L275.5,135.8 L275.4,134.8 L275.3,133.8 L275.2,132.8 L275.2,131.8 L275.1,130.8 L275.0,129.8 L274.9,128.8 L274.8,127.8 L274.7,126.8 L274.6,125.8 L274.4,124.8 L274.3,123.8 L274.2,122.8 L274.1,121.8 L273.9,120.8 L273.8,119.8 L273.7,118.8 L273.5,117.8 L273.4,116.8 L273.2,115.8 L273.1,114.9 L272.9,113.9 L272.7,112.9 L272.6,111.9 L272.4,110.9 L272.2,109.9 L272.0,108.9 L271.8,107.9 L271.6,106.9 L271.4,105.9 L271.2,104.9 L271.0,103.9 L270.8,102.9 L270.6,101.9 L270.4,100.9 L270.2,99.9 L270.0,98.9 L269.9,97.9 L269.7,96.9 L269.6,95.9 L269.6,94.9 L269.5,93.9 L269.4,92.9 L269.4,91.9 L269.3,90.9 L269.3,89.9 L269.2,88.9 L269.2,87.9 L269.1,86.9 L269.1,85.9 L269.0,84.9 L269.0,83.9 L268.9,82.9 L268.9,81.9 L268.9,80.9 L268.8,79.9 L268.8,78.9 L268.8,77.9 L268.7,76.9 L268.7,75.9 L268.7,74.9Z" fill="#dfdf20" stroke="#262626" stroke-width="1.0" stroke-linejoin="round"/>
<line x1="268.69" y1="14.0" x2="268.69" y2="74.9" stroke="#262626" stroke-opacity="0.72" stroke-width="1.2"/>
<line x1="268.69" y1="283.6" x2="268.69" y2="284.6" stroke="#262626" stroke-opacity="0.72" stroke-width="1.2"/>
<line x1="268.69" y1="14.6" x2="268.69" y2="254.7" stroke="#262626" stroke-width="1.25"/>
<rect x="266.54" y="154.1" width="4.3" height="90.20" fill="#262626"/>
<rect x="266.83" y="226.30" width="3.7" height="1.4" fill="#e4e4e4"/>
<path d="M311.5,126.8 L311.5,127.8 L311.5,128.8 L311.4,129.8 L311.4,130.8 L311.4,131.8 L311.3,132.8 L311.3,133.8 L311.3,134.8 L311.2,135.8 L311.2,136.8 L311.1,137.8 L311.1,138.7 L311.0,139.7 L310.9,140.7 L310.9,141.7 L310.8,142.7 L310.6,143.7 L310.5,144.7 L310.3,145.7 L310.1,146.7 L310.0,147.7 L309.8,148.7 L309.6,149.7 L309.4,150.7 L309.2,151.7 L309.0,152.7 L308.8,153.7 L308.6,154.7 L308.4,155.7 L308.2,156.7 L308.1,157.7 L307.9,158.7 L307.8,159.7 L307.6,160.7 L307.5,161.7 L307.3,162.7 L307.2,163.7 L307.0,164.7 L306.9,165.7 L306.7,166.7 L306.6,167.7 L306.4,168.7 L306.3,169.7 L306.2,170.7 L306.1,171.7 L306.0,172.7 L305.9,173.7 L305.8,174.7 L305.7,175.7 L305.6,176.7 L305.5,177.7 L305.5,178.7 L305.4,179.7 L305.4,180.7 L305.3,181.7 L305.3,182.7 L305.2,183.7 L305.2,184.7 L305.1,185.7 L305.1,186.7 L305.1,187.7 L305.1,188.7 L305.1,189.7 L305.0,190.7 L305.0,191.7 L305.0,192.6 L305.0,193.6 L305.0,194.6 L305.0,195.6 L305.0,196.6 L305.0,197.6 L305.1,198.6 L305.1,199.6 L305.1,200.6 L305.1,201.6 L305.1,202.6 L305.1,203.6 L305.1,204.6 L305.1,205.6 L305.1,206.6 L305.0,207.6 L305.0,208.6 L304.9,209.6 L304.8,210.6 L304.7,211.6 L304.6,212.6 L304.4,213.6 L304.2,214.6 L303.9,215.6 L303.6,216.6 L303.4,217.6 L303.1,218.6 L302.7,219.6 L302.4,220.6 L302.0,221.6 L301.6,222.6 L301.3,223.6 L300.9,224.6 L300.6,225.6 L300.2,226.6 L299.8,227.6 L299.4,228.6 L299.0,229.6 L298.4,230.6 L297.8,231.6 L297.2,232.6 L296.6,233.6 L296.2,234.6 L295.9,235.6 L295.6,236.6 L295.3,237.6 L295.1,238.6 L294.9,239.6 L294.8,240.6 L294.8,241.6 L294.9,242.6 L294.9,243.6 L295.1,244.6 L295.2,245.6 L295.4,246.5 L295.6,247.5 L296.1,248.5 L296.7,249.5 L297.4,250.5 L298.2,251.5 L298.9,252.5 L299.7,253.5 L300.6,254.5 L301.5,255.5 L302.5,256.5 L303.5,257.5 L304.4,258.5 L305.2,259.5 L306.0,260.5 L306.8,261.5 L307.6,262.5 L308.3,263.5 L308.9,264.5 L309.3,265.5 L309.7,266.5 L310.0,267.5 L310.3,268.5 L310.5,269.5 L310.8,270.5 L311.2,271.5 L311.5,272.5 L311.5,273.5 L311.5,273.5 L311.6,272.5 L311.9,271.5 L312.2,270.5 L312.5,269.5 L312.8,268.5 L313.1,267.5 L313.4,266.5 L313.8,265.5 L314.2,264.5 L314.8,263.5 L315.5,262.5 L316.2,261.5 L317.0,260.5 L317.9,259.5 L318.7,258.5 L319.6,257.5 L320.6,256.5 L321.5,255.5 L322.5,254.5 L323.4,253.5 L324.1,252.5 L324.9,251.5 L325.7,250.5 L326.4,249.5 L327.0,248.5 L327.4,247.5 L327.7,246.5 L327.9,245.6 L328.0,244.6 L328.1,243.6 L328.2,242.6 L328.3,241.6 L328.3,240.6 L328.2,239.6 L328.0,238.6 L327.8,237.6 L327.5,236.6 L327.2,235.6 L326.9,234.6 L326.5,233.6 L325.9,232.6 L325.3,231.6 L324.7,230.6 L324.1,229.6 L323.7,228.6 L323.3,227.6 L322.9,226.6 L322.5,225.6 L322.2,224.6 L321.8,223.6 L321.4,222.6 L321.1,221.6 L320.7,220.6 L320.4,219.6 L320.0,218.6 L319.7,217.6 L319.4,216.6 L319.2,215.6 L318.9,214.6 L318.7,213.6 L318.5,212.6 L318.4,211.6 L318.3,210.6 L318.2,209.6 L318.1,208.6 L318.1,207.6 L318.0,206.6 L318.0,205.6 L318.0,204.6 L318.0,203.6 L318.0,202.6 L318.0,201.6 L318.0,200.6 L318.0,199.6 L318.0,198.6 L318.0,197.6 L318.0,196.6 L318.0,195.6 L318.0,194.6 L318.0,193.6 L318.0,192.6 L318.0,191.7 L318.0,190.7 L318.0,189.7 L318.0,188.7 L318.0,187.7 L318.0,186.7 L318.0,185.7 L317.9,184.7 L317.9,183.7 L317.8,182.7 L317.8,181.7 L317.7,180.7 L317.7,179.7 L317.6,178.7 L317.5,177.7 L317.5,176.7 L317.4,175.7 L317.3,174.7 L317.2,173.7 L317.1,172.7 L317.0,171.7 L316.9,170.7 L316.8,169.7 L316.6,168.7 L316.5,167.7 L316.4,166.7 L316.2,165.7 L316.1,164.7 L315.9,163.7 L315.8,162.7 L315.6,161.7 L315.5,160.7 L315.3,159.7 L315.2,158.7 L315.0,157.7 L314.8,156.7 L314.7,155.7 L314.5,154.7 L314.2,153.7 L314.0,152.7 L313.8,151.7 L313.7,150.7 L313.5,149.7 L313.3,148.7 L313.1,147.7 L313.0,146.7 L312.8,145.7 L312.6,144.7 L312.5,143.7 L312.3,142.7 L312.2,141.7 L312.1,140.7 L312.1,139.7 L312.0,138.7 L312.0,137.8 L311.9,136.8 L311.9,135.8 L311.8,134.8 L311.8,133.8 L311.7,132.8 L311.7,131.8 L311.7,130.8 L311.6,129.8 L311.6,128.8 L311.6,127.8 L311.6,126.8Z" fill="#df2020" stroke="#262626" stroke-width="1.0" stroke-linejoin="round"/>
<line x1="311.54" y1="110.8" x2="311.54" y2="126.8" stroke="#262626" stroke-opacity="0.72" stroke-width="1.2"/>
<line x1="311.54" y1="117" x2="311.54" y2="254.7" stroke="#262626" stroke-width="1.25"/>
<rect x="309.39" y="192.0" width="4.3" height="54.50" fill="#262626"/>
<rect x="309.69" y="228.80" width="3.7" height="1.4" fill="#e4e4e4"/>
<line x1="32.5" y1="0.5" x2="333.5" y2="0.5" stroke="#000" stroke-opacity="0.78" stroke-width="1.0"/>
<line x1="32.5" y1="298.3" x2="333.5" y2="298.3" stroke="#000" stroke-opacity="0.7" stroke-width="1.0"/>
<line x1="33.0" y1="0" x2="33.0" y2="298.8" stroke="#000" stroke-opacity="0.75" stroke-width="1.0"/>
<line x1="333.0" y1="0" x2="333.0" y2="298.8" stroke="#000" stroke-opacity="0.75" stroke-width="1.0"/>
<line x1="30.30" y1="254.30" x2="32.90" y2="254.30" stroke="#1a1a1a" stroke-width="0.95"/>
<text x="27.60" y="256.50" text-anchor="end" font-size="6.2">0</text>
<line x1="30.30" y1="194.08" x2="32.90" y2="194.08" stroke="#1a1a1a" stroke-width="0.95"/>
<text x="27.60" y="196.28" text-anchor="end" font-size="6.2">50</text>
<line x1="30.30" y1="133.85" x2="32.90" y2="133.85" stroke="#1a1a1a" stroke-width="0.95"/>
<text x="27.60" y="136.05" text-anchor="end" font-size="6.2">100</text>
<line x1="30.30" y1="73.63" x2="32.90" y2="73.63" stroke="#1a1a1a" stroke-width="0.95"/>
<text x="27.60" y="75.83" text-anchor="end" font-size="6.2">150</text>
<line x1="30.30" y1="13.40" x2="32.90" y2="13.40" stroke="#1a1a1a" stroke-width="0.95"/>
<text x="27.60" y="15.60" text-anchor="end" font-size="6.2">200</text>
<line x1="54.40" y1="298.10" x2="54.40" y2="300.90" stroke="#1a1a1a" stroke-width="0.95"/>
<text x="54.40" y="308.40" text-anchor="middle" font-size="6.2">DesiRNA</text>
<line x1="97.26" y1="298.10" x2="97.26" y2="300.90" stroke="#1a1a1a" stroke-width="0.95"/>
<text x="97.26" y="308.40" text-anchor="middle" font-size="6.2">RNAinverse</text>
<line x1="140.11" y1="298.10" x2="140.11" y2="300.90" stroke="#1a1a1a" stroke-width="0.95"/>
<text x="140.11" y="308.40" text-anchor="middle" font-size="6.2">DSS-Opt</text>
<line x1="182.97" y1="298.10" x2="182.97" y2="300.90" stroke="#1a1a1a" stroke-width="0.95"/>
<text x="182.97" y="308.40" text-anchor="middle" font-size="6.2">INFO-RNA</text>
<line x1="225.83" y1="298.10" x2="225.83" y2="300.90" stroke="#1a1a1a" stroke-width="0.95"/>
<text x="225.83" y="308.40" text-anchor="middle" font-size="6.2">RNAfbinv</text>
<line x1="268.69" y1="298.10" x2="268.69" y2="300.90" stroke="#1a1a1a" stroke-width="0.95"/>
<text x="268.69" y="308.40" text-anchor="middle" font-size="6.2">MetaLRNA</text>
<line x1="311.54" y1="298.10" x2="311.54" y2="300.90" stroke="#1a1a1a" stroke-width="0.95"/>
<text x="311.54" y="308.40" text-anchor="middle" font-size="6.2">RNARedPrint</text>
<text x="183" y="318" text-anchor="middle" font-size="7.7">Algorithm</text>
<text transform="translate(12.4,149.9) rotate(-90)" text-anchor="middle" font-size="7.9">RNApdist (less is better)</text>
<text x="-0.1" y="307.7" font-size="15" style="stroke-width:0">A</text>
<path d="M405.9,83.8 L405.9,84.8 L405.8,85.8 L405.8,86.8 L405.8,87.8 L405.8,88.8 L405.8,89.8 L405.8,90.8 L405.7,91.8 L405.7,92.8 L405.7,93.8 L405.7,94.8 L405.6,95.7 L405.5,96.7 L405.4,97.7 L405.3,98.7 L405.1,99.7 L405.0,100.7 L404.9,101.7 L404.8,102.7 L404.7,103.7 L404.6,104.7 L404.5,105.7 L404.4,106.7 L404.3,107.7 L404.2,108.7 L404.1,109.7 L404.0,110.7 L403.9,111.7 L403.8,112.7 L403.7,113.7 L403.6,114.7 L403.5,115.7 L403.4,116.7 L403.3,117.7 L403.2,118.7 L403.1,119.7 L403.0,120.7 L403.0,121.7 L402.9,122.7 L402.8,123.7 L402.8,124.7 L402.7,125.7 L402.6,126.7 L402.6,127.7 L402.5,128.7 L402.4,129.7 L402.4,130.7 L402.3,131.7 L402.3,132.7 L402.2,133.7 L402.2,134.7 L402.1,135.7 L402.1,136.7 L402.0,137.7 L402.0,138.7 L402.0,139.7 L402.0,140.7 L401.9,141.7 L401.9,142.7 L401.9,143.7 L401.9,144.7 L401.9,145.7 L401.9,146.7 L401.9,147.7 L401.9,148.7 L401.9,149.6 L401.9,150.6 L401.9,151.6 L401.9,152.6 L401.9,153.6 L401.9,154.6 L401.9,155.6 L402.0,156.6 L402.0,157.6 L402.0,158.6 L402.0,159.6 L402.0,160.6 L402.1,161.6 L402.1,162.6 L402.1,163.6 L402.2,164.6 L402.2,165.6 L402.3,166.6 L402.3,167.6 L402.4,168.6 L402.4,169.6 L402.5,170.6 L402.5,171.6 L402.6,172.6 L402.6,173.6 L402.6,174.6 L402.7,175.6 L402.7,176.6 L402.7,177.6 L402.7,178.6 L402.7,179.6 L402.7,180.6 L402.8,181.6 L402.8,182.6 L402.8,183.6 L402.9,184.6 L402.9,185.6 L402.9,186.6 L402.9,187.6 L402.9,188.6 L402.8,189.6 L402.8,190.6 L402.7,191.6 L402.6,192.6 L402.6,193.6 L402.5,194.6 L402.4,195.6 L402.3,196.6 L402.2,197.6 L402.1,198.6 L402.0,199.6 L401.9,200.6 L401.8,201.6 L401.7,202.6 L401.6,203.5 L401.5,204.5 L401.3,205.5 L401.1,206.5 L400.7,207.5 L400.3,208.5 L399.9,209.5 L399.5,210.5 L399.1,211.5 L398.8,212.5 L398.4,213.5 L398.1,214.5 L397.7,215.5 L397.3,216.5 L396.9,217.5 L396.5,218.5 L396.1,219.5 L395.7,220.5 L395.3,221.5 L394.9,222.5 L394.5,223.5 L394.1,224.5 L393.7,225.5 L393.4,226.5 L393.0,227.5 L392.6,228.5 L392.2,229.5 L391.7,230.5 L391.2,231.5 L390.7,232.5 L390.3,233.5 L389.9,234.5 L389.7,235.5 L389.5,236.5 L389.3,237.5 L389.2,238.5 L389.1,239.5 L389.0,240.5 L389.0,241.5 L389.0,242.5 L389.1,243.5 L389.2,244.5 L389.2,245.5 L389.3,246.5 L389.5,247.5 L389.7,248.5 L390.1,249.5 L390.5,250.5 L391.0,251.5 L391.5,252.5 L392.0,253.5 L392.6,254.5 L393.3,255.5 L394.0,256.5 L394.8,257.4 L395.5,258.4 L396.2,259.4 L396.9,260.4 L397.6,261.4 L398.3,262.4 L399.0,263.4 L399.6,264.4 L400.1,265.4 L400.7,266.4 L401.2,267.4 L401.6,268.4 L402.1,269.4 L402.4,270.4 L402.7,271.4 L403.0,272.4 L403.2,273.4 L403.3,274.4 L403.5,275.4 L403.8,276.4 L404.0,277.4 L404.4,278.4 L404.7,279.4 L405.0,280.4 L405.3,281.4 L405.6,282.4 L405.9,283.4 L405.9,283.4 L406.2,282.4 L406.5,281.4 L406.8,280.4 L407.1,279.4 L407.4,278.4 L407.8,277.4 L408.0,276.4 L408.3,275.4 L408.5,274.4 L408.6,273.4 L408.8,272.4 L409.1,271.4 L409.4,270.4 L409.7,269.4 L410.2,268.4 L410.6,267.4 L411.1,266.4 L411.7,265.4 L412.2,264.4 L412.8,263.4 L413.5,262.4 L414.2,261.4 L414.9,260.4 L415.6,259.4 L416.3,258.4 L417.0,257.4 L417.8,256.5 L418.5,255.5 L419.2,254.5 L419.8,253.5 L420.3,252.5 L420.8,251.5 L421.3,250.5 L421.7,249.5 L422.1,248.5 L422.3,247.5 L422.5,246.5 L422.6,245.5 L422.6,244.5 L422.7,243.5 L422.8,242.5 L422.8,241.5 L422.8,240.5 L422.7,239.5 L422.6,238.5 L422.5,237.5 L422.3,236.5 L422.1,235.5 L421.9,234.5 L421.5,233.5 L421.1,232.5 L420.6,231.5 L420.1,230.5 L419.6,229.5 L419.2,228.5 L418.8,227.5 L418.4,226.5 L418.1,225.5 L417.7,224.5 L417.3,223.5 L416.9,222.5 L416.5,221.5 L416.1,220.5 L415.7,219.5 L415.3,218.5 L414.9,217.5 L414.5,216.5 L414.1,215.5 L413.7,214.5 L413.4,213.5 L413.0,212.5 L412.7,211.5 L412.3,210.5 L411.9,209.5 L411.5,208.5 L411.1,207.5 L410.7,206.5 L410.5,205.5 L410.3,204.5 L410.2,203.5 L410.1,202.6 L410.0,201.6 L409.9,200.6 L409.8,199.6 L409.7,198.6 L409.6,197.6 L409.5,196.6 L409.4,195.6 L409.3,194.6 L409.2,193.6 L409.2,192.6 L409.1,191.6 L409.0,190.6 L409.0,189.6 L408.9,188.6 L408.9,187.6 L408.9,186.6 L408.9,185.6 L408.9,184.6 L409.0,183.6 L409.0,182.6 L409.0,181.6 L409.1,180.6 L409.1,179.6 L409.1,178.6 L409.1,177.6 L409.1,176.6 L409.1,175.6 L409.2,174.6 L409.2,173.6 L409.2,172.6 L409.3,171.6 L409.3,170.6 L409.4,169.6 L409.4,168.6 L409.5,167.6 L409.5,166.6 L409.6,165.6 L409.6,164.6 L409.7,163.6 L409.7,162.6 L409.7,161.6 L409.8,160.6 L409.8,159.6 L409.8,158.6 L409.8,157.6 L409.8,156.6 L409.8,155.6 L409.8,154.6 L409.8,153.6 L409.8,152.6 L409.8,151.6 L409.8,150.6 L409.8,149.6 L409.8,148.7 L409.8,147.7 L409.8,146.7 L409.8,145.7 L409.8,144.7 L409.8,143.7 L409.8,142.7 L409.8,141.7 L409.8,140.7 L409.8,139.7 L409.8,138.7 L409.8,137.7 L409.7,136.7 L409.7,135.7 L409.6,134.7 L409.6,133.7 L409.5,132.7 L409.5,131.7 L409.4,130.7 L409.4,129.7 L409.3,128.7 L409.2,127.7 L409.2,126.7 L409.1,125.7 L409.0,124.7 L409.0,123.7 L408.9,122.7 L408.8,121.7 L408.8,120.7 L408.7,119.7 L408.6,118.7 L408.5,117.7 L408.4,116.7 L408.3,115.7 L408.2,114.7 L408.1,113.7 L408.0,112.7 L407.9,111.7 L407.8,110.7 L407.7,109.7 L407.6,108.7 L407.5,107.7 L407.4,106.7 L407.3,105.7 L407.2,104.7 L407.1,103.7 L407.0,102.7 L406.9,101.7 L406.8,100.7 L406.7,99.7 L406.5,98.7 L406.4,97.7 L406.3,96.7 L406.2,95.7 L406.1,94.8 L406.1,93.8 L406.1,92.8 L406.1,91.8 L406.0,90.8 L406.0,89.8 L406.0,88.8 L406.0,87.8 L406.0,86.8 L406.0,85.8 L405.9,84.8 L405.9,83.8Z" fill="#18a7a7" stroke="#262626" stroke-width="1.0" stroke-linejoin="round"/>
<line x1="405.90" y1="13.9" x2="405.90" y2="83.8" stroke="#262626" stroke-opacity="0.72" stroke-width="1.2"/>
<line x1="405.90" y1="283.4" x2="405.90" y2="284.4" stroke="#262626" stroke-opacity="0.72" stroke-width="1.2"/>
<line x1="405.90" y1="103.1" x2="405.90" y2="255.5" stroke="#262626" stroke-width="1.25"/>
<rect x="403.75" y="179.3" width="4.3" height="69.30" fill="#262626"/>
<rect x="404.05" y="232.70" width="3.7" height="1.4" fill="#e4e4e4"/>
<path d="M448.7,137.9 L448.7,138.9 L448.7,139.9 L448.6,140.9 L448.5,141.9 L448.5,142.9 L448.4,143.9 L448.3,144.9 L448.3,145.9 L448.2,146.9 L448.1,147.9 L448.0,148.9 L447.9,149.8 L447.8,150.8 L447.7,151.8 L447.6,152.8 L447.5,153.8 L447.4,154.8 L447.3,155.8 L447.2,156.8 L447.1,157.8 L447.0,158.8 L446.9,159.8 L446.8,160.8 L446.7,161.8 L446.6,162.8 L446.5,163.8 L446.4,164.8 L446.3,165.8 L446.2,166.8 L446.1,167.8 L446.0,168.7 L445.9,169.7 L445.8,170.7 L445.7,171.7 L445.6,172.7 L445.5,173.7 L445.4,174.7 L445.3,175.7 L445.3,176.7 L445.2,177.7 L445.2,178.7 L445.2,179.7 L445.1,180.7 L445.1,181.7 L445.1,182.7 L445.0,183.7 L445.0,184.7 L445.0,185.7 L444.9,186.7 L444.9,187.6 L444.9,188.6 L444.9,189.6 L444.9,190.6 L444.9,191.6 L444.9,192.6 L444.9,193.6 L444.9,194.6 L444.9,195.6 L444.9,196.6 L444.9,197.6 L444.9,198.6 L444.9,199.6 L444.9,200.6 L444.9,201.6 L444.9,202.6 L444.9,203.6 L444.9,204.6 L444.9,205.6 L444.9,206.5 L444.9,207.5 L444.8,208.5 L444.8,209.5 L444.7,210.5 L444.6,211.5 L444.5,212.5 L444.2,213.5 L444.0,214.5 L443.7,215.5 L443.4,216.5 L443.1,217.5 L442.7,218.5 L442.3,219.5 L441.9,220.5 L441.5,221.5 L441.0,222.5 L440.5,223.5 L440.1,224.5 L439.6,225.4 L439.1,226.4 L438.6,227.4 L438.0,228.4 L437.4,229.4 L436.7,230.4 L435.8,231.4 L435.0,232.4 L434.2,233.4 L433.6,234.4 L433.2,235.4 L432.9,236.4 L432.6,237.4 L432.4,238.4 L432.2,239.4 L432.1,240.4 L432.1,241.4 L432.2,242.4 L432.5,243.4 L432.8,244.4 L433.2,245.3 L433.7,246.3 L434.1,247.3 L434.6,248.3 L435.1,249.3 L435.7,250.3 L436.4,251.3 L437.1,252.3 L437.8,253.3 L438.6,254.3 L439.5,255.3 L440.5,256.3 L441.5,257.3 L442.3,258.3 L443.1,259.3 L443.8,260.3 L444.5,261.3 L445.1,262.3 L445.7,263.3 L446.2,264.2 L446.6,265.2 L447.0,266.2 L447.3,267.2 L447.6,268.2 L447.9,269.2 L448.2,270.2 L448.5,271.2 L448.8,272.2 L448.8,272.2 L449.0,271.2 L449.3,270.2 L449.6,269.2 L449.9,268.2 L450.2,267.2 L450.5,266.2 L450.9,265.2 L451.3,264.2 L451.9,263.3 L452.4,262.3 L453.1,261.3 L453.7,260.3 L454.4,259.3 L455.2,258.3 L456.0,257.3 L457.0,256.3 L458.0,255.3 L458.9,254.3 L459.7,253.3 L460.4,252.3 L461.1,251.3 L461.8,250.3 L462.4,249.3 L462.9,248.3 L463.4,247.3 L463.8,246.3 L464.3,245.3 L464.7,244.4 L465.0,243.4 L465.3,242.4 L465.4,241.4 L465.4,240.4 L465.3,239.4 L465.1,238.4 L464.9,237.4 L464.6,236.4 L464.3,235.4 L463.9,234.4 L463.3,233.4 L462.5,232.4 L461.7,231.4 L460.8,230.4 L460.1,229.4 L459.5,228.4 L458.9,227.4 L458.4,226.4 L457.9,225.4 L457.4,224.5 L457.0,223.5 L456.5,222.5 L456.1,221.5 L455.6,220.5 L455.2,219.5 L454.8,218.5 L454.4,217.5 L454.1,216.5 L453.8,215.5 L453.5,214.5 L453.3,213.5 L453.1,212.5 L452.9,211.5 L452.8,210.5 L452.8,209.5 L452.7,208.5 L452.7,207.5 L452.6,206.5 L452.6,205.6 L452.6,204.6 L452.6,203.6 L452.6,202.6 L452.6,201.6 L452.6,200.6 L452.6,199.6 L452.7,198.6 L452.7,197.6 L452.7,196.6 L452.7,195.6 L452.7,194.6 L452.7,193.6 L452.7,192.6 L452.7,191.6 L452.7,190.6 L452.7,189.6 L452.6,188.6 L452.6,187.6 L452.6,186.7 L452.6,185.7 L452.5,184.7 L452.5,183.7 L452.5,182.7 L452.4,181.7 L452.4,180.7 L452.4,179.7 L452.3,178.7 L452.3,177.7 L452.2,176.7 L452.2,175.7 L452.1,174.7 L452.0,173.7 L451.9,172.7 L451.8,171.7 L451.7,170.7 L451.6,169.7 L451.5,168.7 L451.4,167.8 L451.3,166.8 L451.2,165.8 L451.1,164.8 L451.0,163.8 L451.0,162.8 L450.9,161.8 L450.8,160.8 L450.7,159.8 L450.5,158.8 L450.4,157.8 L450.3,156.8 L450.2,155.8 L450.1,154.8 L450.0,153.8 L449.9,152.8 L449.8,151.8 L449.7,150.8 L449.6,149.8 L449.5,148.9 L449.4,147.9 L449.3,146.9 L449.2,145.9 L449.2,144.9 L449.1,143.9 L449.0,142.9 L449.0,141.9 L448.9,140.9 L448.9,139.9 L448.8,138.9 L448.8,137.9Z" fill="#107010" stroke="#262626" stroke-width="1.0" stroke-linejoin="round"/>
<line x1="448.76" y1="101.1" x2="448.76" y2="137.9" stroke="#262626" stroke-opacity="0.72" stroke-width="1.2"/>
<line x1="448.76" y1="272.2" x2="448.76" y2="273.2" stroke="#262626" stroke-opacity="0.72" stroke-width="1.2"/>
<line x1="448.76" y1="160" x2="448.76" y2="255.5" stroke="#262626" stroke-width="1.25"/>
<rect x="446.61" y="208.1" width="4.3" height="38.40" fill="#262626"/>
<rect x="446.91" y="236.00" width="3.7" height="1.4" fill="#e4e4e4"/>
<path d="M491.6,83.0 L491.6,84.0 L491.5,85.0 L491.5,86.0 L491.4,87.0 L491.4,88.0 L491.4,89.0 L491.3,90.0 L491.3,91.0 L491.2,92.0 L491.2,93.0 L491.1,94.0 L491.1,95.0 L491.0,96.0 L491.0,97.0 L490.9,98.0 L490.8,99.0 L490.7,100.0 L490.6,100.9 L490.5,101.9 L490.4,102.9 L490.3,103.9 L490.3,104.9 L490.2,105.9 L490.1,106.9 L490.0,107.9 L489.9,108.9 L489.8,109.9 L489.7,110.9 L489.6,111.9 L489.5,112.9 L489.4,113.9 L489.3,114.9 L489.2,115.9 L489.1,116.9 L489.1,117.9 L489.0,118.9 L488.9,119.9 L488.8,120.9 L488.8,121.9 L488.7,122.9 L488.6,123.9 L488.6,124.9 L488.5,125.9 L488.5,126.9 L488.4,127.9 L488.4,128.9 L488.4,129.9 L488.3,130.9 L488.3,131.9 L488.2,132.9 L488.2,133.8 L488.2,134.8 L488.1,135.8 L488.1,136.8 L488.1,137.8 L488.1,138.8 L488.0,139.8 L488.0,140.8 L488.0,141.8 L488.0,142.8 L488.0,143.8 L488.0,144.8 L488.0,145.8 L488.0,146.8 L488.0,147.8 L488.0,148.8 L488.0,149.8 L488.0,150.8 L488.0,151.8 L488.0,152.8 L488.0,153.8 L488.1,154.8 L488.1,155.8 L488.1,156.8 L488.1,157.8 L488.1,158.8 L488.1,159.8 L488.1,160.8 L488.1,161.8 L488.1,162.8 L488.2,163.8 L488.2,164.8 L488.2,165.8 L488.3,166.8 L488.3,167.7 L488.4,168.7 L488.4,169.7 L488.4,170.7 L488.5,171.7 L488.5,172.7 L488.6,173.7 L488.6,174.7 L488.6,175.7 L488.7,176.7 L488.7,177.7 L488.7,178.7 L488.7,179.7 L488.8,180.7 L488.8,181.7 L488.8,182.7 L488.8,183.7 L488.8,184.7 L488.8,185.7 L488.8,186.7 L488.8,187.7 L488.8,188.7 L488.7,189.7 L488.7,190.7 L488.6,191.7 L488.5,192.7 L488.5,193.7 L488.4,194.7 L488.3,195.7 L488.1,196.7 L488.0,197.7 L487.9,198.7 L487.8,199.7 L487.7,200.6 L487.6,201.6 L487.5,202.6 L487.4,203.6 L487.2,204.6 L487.0,205.6 L486.7,206.6 L486.4,207.6 L486.0,208.6 L485.5,209.6 L485.1,210.6 L484.7,211.6 L484.3,212.6 L483.9,213.6 L483.4,214.6 L483.0,215.6 L482.6,216.6 L482.2,217.6 L481.8,218.6 L481.4,219.6 L481.1,220.6 L480.7,221.6 L480.4,222.6 L480.0,223.6 L479.7,224.6 L479.3,225.6 L479.0,226.6 L478.6,227.6 L478.3,228.6 L477.9,229.6 L477.4,230.6 L477.0,231.6 L476.5,232.6 L476.1,233.6 L475.8,234.5 L475.6,235.5 L475.4,236.5 L475.2,237.5 L475.0,238.5 L474.9,239.5 L474.9,240.5 L474.9,241.5 L474.9,242.5 L475.0,243.5 L475.1,244.5 L475.2,245.5 L475.3,246.5 L475.5,247.5 L475.8,248.5 L476.1,249.5 L476.6,250.5 L477.0,251.5 L477.5,252.5 L478.0,253.5 L478.6,254.5 L479.3,255.5 L480.0,256.5 L480.7,257.5 L481.4,258.5 L482.0,259.5 L482.7,260.5 L483.4,261.5 L484.0,262.5 L484.7,263.5 L485.3,264.5 L485.8,265.5 L486.3,266.5 L486.8,267.5 L487.2,268.4 L487.7,269.4 L488.0,270.4 L488.4,271.4 L488.6,272.4 L488.9,273.4 L489.1,274.4 L489.4,275.4 L489.6,276.4 L489.9,277.4 L490.2,278.4 L490.5,279.4 L490.8,280.4 L491.1,281.4 L491.3,282.4 L491.6,283.4 L491.6,283.4 L491.9,282.4 L492.1,281.4 L492.4,280.4 L492.7,279.4 L493.0,278.4 L493.3,277.4 L493.6,276.4 L493.9,275.4 L494.1,274.4 L494.3,273.4 L494.6,272.4 L494.9,271.4 L495.2,270.4 L495.6,269.4 L496.0,268.4 L496.4,267.5 L496.9,266.5 L497.4,265.5 L498.0,264.5 L498.5,263.5 L499.2,262.5 L499.9,261.5 L500.5,260.5 L501.2,259.5 L501.9,258.5 L502.6,257.5 L503.3,256.5 L504.0,255.5 L504.6,254.5 L505.2,253.5 L505.7,252.5 L506.2,251.5 L506.7,250.5 L507.1,249.5 L507.5,248.5 L507.7,247.5 L507.9,246.5 L508.0,245.5 L508.1,244.5 L508.2,243.5 L508.3,242.5 L508.4,241.5 L508.4,240.5 L508.3,239.5 L508.2,238.5 L508.0,237.5 L507.9,236.5 L507.7,235.5 L507.5,234.5 L507.1,233.6 L506.7,232.6 L506.3,231.6 L505.8,230.6 L505.3,229.6 L505.0,228.6 L504.6,227.6 L504.2,226.6 L503.9,225.6 L503.6,224.6 L503.2,223.6 L502.9,222.6 L502.5,221.6 L502.2,220.6 L501.8,219.6 L501.4,218.6 L501.0,217.6 L500.7,216.6 L500.2,215.6 L499.8,214.6 L499.4,213.6 L498.9,212.6 L498.5,211.6 L498.1,210.6 L497.7,209.6 L497.3,208.6 L496.9,207.6 L496.5,206.6 L496.2,205.6 L496.0,204.6 L495.9,203.6 L495.7,202.6 L495.6,201.6 L495.5,200.6 L495.4,199.7 L495.3,198.7 L495.2,197.7 L495.1,196.7 L495.0,195.7 L494.9,194.7 L494.8,193.7 L494.7,192.7 L494.6,191.7 L494.6,190.7 L494.5,189.7 L494.4,188.7 L494.4,187.7 L494.4,186.7 L494.4,185.7 L494.4,184.7 L494.4,183.7 L494.4,182.7 L494.5,181.7 L494.5,180.7 L494.5,179.7 L494.5,178.7 L494.5,177.7 L494.6,176.7 L494.6,175.7 L494.6,174.7 L494.7,173.7 L494.7,172.7 L494.8,171.7 L494.8,170.7 L494.8,169.7 L494.9,168.7 L494.9,167.7 L495.0,166.8 L495.0,165.8 L495.0,164.8 L495.1,163.8 L495.1,162.8 L495.1,161.8 L495.2,160.8 L495.2,159.8 L495.2,158.8 L495.2,157.8 L495.2,156.8 L495.2,155.8 L495.2,154.8 L495.2,153.8 L495.2,152.8 L495.2,151.8 L495.2,150.8 L495.2,149.8 L495.2,148.8 L495.2,147.8 L495.2,146.8 L495.2,145.8 L495.2,144.8 L495.2,143.8 L495.2,142.8 L495.2,141.8 L495.2,140.8 L495.2,139.8 L495.2,138.8 L495.1,137.8 L495.1,136.8 L495.1,135.8 L495.0,134.8 L495.0,133.8 L495.0,132.9 L494.9,131.9 L494.9,130.9 L494.9,129.9 L494.8,128.9 L494.8,127.9 L494.7,126.9 L494.7,125.9 L494.6,124.9 L494.6,123.9 L494.5,122.9 L494.5,121.9 L494.4,120.9 L494.3,119.9 L494.2,118.9 L494.2,117.9 L494.1,116.9 L494.0,115.9 L493.9,114.9 L493.8,113.9 L493.7,112.9 L493.6,111.9 L493.5,110.9 L493.4,109.9 L493.3,108.9 L493.3,107.9 L493.2,106.9 L493.1,105.9 L493.0,104.9 L492.9,103.9 L492.8,102.9 L492.7,101.9 L492.6,100.9 L492.5,100.0 L492.4,99.0 L492.3,98.0 L492.3,97.0 L492.2,96.0 L492.1,95.0 L492.1,94.0 L492.0,93.0 L492.0,92.0 L491.9,91.0 L491.9,90.0 L491.9,89.0 L491.8,88.0 L491.8,87.0 L491.7,86.0 L491.7,85.0 L491.7,84.0 L491.6,83.0Z" fill="#a7a718" stroke="#262626" stroke-width="1.0" stroke-linejoin="round"/>
<line x1="491.61" y1="16.2" x2="491.61" y2="83.0" stroke="#262626" stroke-opacity="0.72" stroke-width="1.2"/>
<line x1="491.61" y1="283.4" x2="491.61" y2="284.4" stroke="#262626" stroke-opacity="0.72" stroke-width="1.2"/>
<line x1="491.61" y1="106.2" x2="491.61" y2="255.5" stroke="#262626" stroke-width="1.25"/>
<rect x="489.46" y="179.3" width="4.3" height="69.20" fill="#262626"/>
<rect x="489.76" y="231.80" width="3.7" height="1.4" fill="#e4e4e4"/>
<path d="M534.4,136.5 L534.4,137.5 L534.4,138.5 L534.3,139.5 L534.3,140.5 L534.3,141.5 L534.2,142.5 L534.2,143.5 L534.1,144.5 L534.1,145.5 L534.0,146.5 L534.0,147.5 L533.9,148.5 L533.8,149.5 L533.8,150.5 L533.7,151.5 L533.6,152.5 L533.5,153.5 L533.4,154.5 L533.4,155.5 L533.3,156.5 L533.3,157.5 L533.2,158.5 L533.2,159.5 L533.1,160.5 L533.1,161.5 L533.0,162.5 L533.0,163.5 L532.9,164.5 L532.9,165.5 L532.8,166.5 L532.7,167.5 L532.7,168.5 L532.6,169.5 L532.5,170.5 L532.5,171.4 L532.4,172.4 L532.3,173.4 L532.2,174.4 L532.1,175.4 L532.0,176.4 L531.9,177.4 L531.8,178.4 L531.7,179.4 L531.7,180.4 L531.6,181.4 L531.5,182.4 L531.5,183.4 L531.4,184.4 L531.4,185.4 L531.3,186.4 L531.3,187.4 L531.2,188.4 L531.2,189.4 L531.1,190.4 L531.1,191.4 L531.0,192.4 L531.0,193.4 L530.9,194.4 L530.9,195.4 L530.9,196.4 L530.9,197.4 L530.9,198.4 L530.9,199.4 L530.9,200.4 L530.9,201.4 L530.8,202.4 L530.8,203.4 L530.7,204.4 L530.7,205.4 L530.6,206.4 L530.6,207.4 L530.5,208.4 L530.5,209.4 L530.4,210.4 L530.3,211.4 L530.2,212.3 L530.0,213.3 L529.8,214.3 L529.6,215.3 L529.4,216.3 L529.1,217.3 L528.8,218.3 L528.5,219.3 L528.1,220.3 L527.6,221.3 L526.9,222.3 L526.2,223.3 L525.5,224.3 L524.8,225.3 L524.2,226.3 L523.7,227.3 L523.2,228.3 L522.7,229.3 L522.2,230.3 L521.8,231.3 L521.4,232.3 L521.0,233.3 L520.7,234.3 L520.3,235.3 L520.0,236.3 L519.6,237.3 L519.3,238.3 L518.8,239.3 L518.4,240.3 L518.1,241.3 L517.8,242.3 L517.6,243.3 L517.6,244.3 L517.8,245.3 L518.2,246.3 L518.6,247.3 L519.2,248.3 L519.9,249.3 L520.5,250.3 L521.2,251.3 L521.8,252.2 L522.4,253.2 L523.0,254.2 L523.7,255.2 L524.5,256.2 L525.3,257.2 L526.2,258.2 L527.2,259.2 L528.1,260.2 L529.0,261.2 L529.7,262.2 L530.3,263.2 L530.9,264.2 L531.4,265.2 L531.8,266.2 L532.2,267.2 L532.7,268.2 L533.2,269.2 L533.7,270.2 L534.2,271.2 L534.5,272.2 L534.5,272.2 L534.7,271.2 L535.2,270.2 L535.8,269.2 L536.3,268.2 L536.7,267.2 L537.1,266.2 L537.6,265.2 L538.1,264.2 L538.6,263.2 L539.2,262.2 L539.9,261.2 L540.8,260.2 L541.7,259.2 L542.7,258.2 L543.6,257.2 L544.5,256.2 L545.2,255.2 L545.9,254.2 L546.5,253.2 L547.2,252.2 L547.8,251.3 L548.4,250.3 L549.1,249.3 L549.8,248.3 L550.4,247.3 L550.8,246.3 L551.2,245.3 L551.4,244.3 L551.3,243.3 L551.1,242.3 L550.8,241.3 L550.5,240.3 L550.1,239.3 L549.7,238.3 L549.3,237.3 L549.0,236.3 L548.6,235.3 L548.3,234.3 L547.9,233.3 L547.5,232.3 L547.1,231.3 L546.7,230.3 L546.2,229.3 L545.8,228.3 L545.3,227.3 L544.7,226.3 L544.2,225.3 L543.5,224.3 L542.8,223.3 L542.0,222.3 L541.4,221.3 L540.9,220.3 L540.5,219.3 L540.1,218.3 L539.8,217.3 L539.6,216.3 L539.3,215.3 L539.1,214.3 L539.0,213.3 L538.8,212.3 L538.6,211.4 L538.6,210.4 L538.5,209.4 L538.4,208.4 L538.4,207.4 L538.3,206.4 L538.3,205.4 L538.2,204.4 L538.2,203.4 L538.1,202.4 L538.1,201.4 L538.1,200.4 L538.1,199.4 L538.0,198.4 L538.0,197.4 L538.0,196.4 L538.0,195.4 L538.0,194.4 L538.0,193.4 L537.9,192.4 L537.9,191.4 L537.8,190.4 L537.8,189.4 L537.7,188.4 L537.7,187.4 L537.6,186.4 L537.6,185.4 L537.5,184.4 L537.5,183.4 L537.4,182.4 L537.4,181.4 L537.3,180.4 L537.2,179.4 L537.1,178.4 L537.0,177.4 L536.9,176.4 L536.8,175.4 L536.7,174.4 L536.6,173.4 L536.6,172.4 L536.5,171.4 L536.4,170.5 L536.3,169.5 L536.3,168.5 L536.2,167.5 L536.1,166.5 L536.1,165.5 L536.0,164.5 L536.0,163.5 L535.9,162.5 L535.9,161.5 L535.8,160.5 L535.8,159.5 L535.7,158.5 L535.7,157.5 L535.6,156.5 L535.6,155.5 L535.5,154.5 L535.4,153.5 L535.3,152.5 L535.3,151.5 L535.2,150.5 L535.1,149.5 L535.0,148.5 L535.0,147.5 L534.9,146.5 L534.9,145.5 L534.8,144.5 L534.8,143.5 L534.7,142.5 L534.7,141.5 L534.6,140.5 L534.6,139.5 L534.6,138.5 L534.5,137.5 L534.5,136.5Z" fill="#a718a7" stroke="#262626" stroke-width="1.0" stroke-linejoin="round"/>
<line x1="534.47" y1="110.6" x2="534.47" y2="136.5" stroke="#262626" stroke-opacity="0.72" stroke-width="1.2"/>
<line x1="534.47" y1="163.5" x2="534.47" y2="255.5" stroke="#262626" stroke-width="1.25"/>
<rect x="532.32" y="209.1" width="4.3" height="39.50" fill="#262626"/>
<rect x="532.62" y="238.00" width="3.7" height="1.4" fill="#e4e4e4"/>
<path d="M577.3,140.1 L577.3,141.1 L577.3,142.1 L577.2,143.1 L577.2,144.1 L577.2,145.1 L577.1,146.1 L577.1,147.1 L577.1,148.1 L577.0,149.1 L577.0,150.1 L576.9,151.1 L576.8,152.1 L576.8,153.1 L576.7,154.1 L576.6,155.1 L576.6,156.1 L576.5,157.1 L576.4,158.1 L576.3,159.1 L576.2,160.1 L576.1,161.1 L576.0,162.1 L576.0,163.1 L575.9,164.1 L575.8,165.1 L575.7,166.1 L575.6,167.1 L575.5,168.1 L575.4,169.1 L575.3,170.1 L575.2,171.1 L575.1,172.1 L575.0,173.1 L574.9,174.1 L574.8,175.1 L574.7,176.1 L574.6,177.1 L574.5,178.1 L574.4,179.1 L574.3,180.1 L574.3,181.1 L574.2,182.1 L574.1,183.1 L574.1,184.1 L574.0,185.1 L573.9,186.1 L573.9,187.1 L573.8,188.1 L573.7,189.1 L573.7,190.1 L573.6,191.1 L573.6,192.1 L573.5,193.1 L573.5,194.0 L573.4,195.0 L573.4,196.0 L573.4,197.0 L573.4,198.0 L573.4,199.0 L573.3,200.0 L573.3,201.0 L573.3,202.0 L573.2,203.0 L573.2,204.0 L573.2,205.0 L573.1,206.0 L573.0,207.0 L572.9,208.0 L572.9,209.0 L572.8,210.0 L572.7,211.0 L572.6,212.0 L572.5,213.0 L572.5,214.0 L572.4,215.0 L572.3,216.0 L572.2,217.0 L572.2,218.0 L572.1,219.0 L572.0,220.0 L571.6,221.0 L571.0,222.0 L570.4,223.0 L569.8,224.0 L569.1,225.0 L568.4,226.0 L567.8,227.0 L567.3,228.0 L566.8,229.0 L566.2,230.0 L565.7,231.0 L565.1,232.0 L564.4,233.0 L563.7,234.0 L562.9,235.0 L562.1,236.0 L561.5,237.0 L561.1,238.0 L560.8,239.0 L560.6,240.0 L560.5,241.0 L560.5,242.0 L560.5,243.0 L560.5,244.0 L560.7,245.0 L561.2,246.0 L561.7,247.0 L562.3,248.0 L563.0,249.0 L563.8,250.0 L564.6,251.0 L565.5,252.0 L566.4,253.0 L567.3,254.0 L568.2,255.0 L569.1,256.0 L570.0,257.0 L571.0,258.0 L571.8,259.0 L572.7,260.0 L573.5,261.0 L574.2,262.0 L574.8,263.0 L575.3,264.0 L575.7,265.0 L576.1,266.0 L576.3,267.0 L576.6,268.0 L577.0,269.0 L577.3,270.0 L577.3,271.0 L577.3,271.0 L577.4,270.0 L577.7,269.0 L578.0,268.0 L578.3,267.0 L578.6,266.0 L578.9,265.0 L579.3,264.0 L579.8,263.0 L580.4,262.0 L581.1,261.0 L582.0,260.0 L582.8,259.0 L583.7,258.0 L584.6,257.0 L585.5,256.0 L586.4,255.0 L587.4,254.0 L588.3,253.0 L589.2,252.0 L590.1,251.0 L590.9,250.0 L591.6,249.0 L592.3,248.0 L592.9,247.0 L593.5,246.0 L593.9,245.0 L594.1,244.0 L594.1,243.0 L594.1,242.0 L594.1,241.0 L594.0,240.0 L593.8,239.0 L593.5,238.0 L593.1,237.0 L592.5,236.0 L591.8,235.0 L591.0,234.0 L590.2,233.0 L589.5,232.0 L589.0,231.0 L588.4,230.0 L587.9,229.0 L587.4,228.0 L586.8,227.0 L586.2,226.0 L585.6,225.0 L584.9,224.0 L584.2,223.0 L583.6,222.0 L583.0,221.0 L582.7,220.0 L582.6,219.0 L582.5,218.0 L582.4,217.0 L582.4,216.0 L582.3,215.0 L582.2,214.0 L582.1,213.0 L582.0,212.0 L582.0,211.0 L581.9,210.0 L581.8,209.0 L581.7,208.0 L581.6,207.0 L581.6,206.0 L581.5,205.0 L581.5,204.0 L581.4,203.0 L581.4,202.0 L581.3,201.0 L581.3,200.0 L581.3,199.0 L581.3,198.0 L581.3,197.0 L581.2,196.0 L581.2,195.0 L581.2,194.0 L581.1,193.1 L581.1,192.1 L581.0,191.1 L581.0,190.1 L580.9,189.1 L580.9,188.1 L580.8,187.1 L580.7,186.1 L580.7,185.1 L580.6,184.1 L580.5,183.1 L580.5,182.1 L580.4,181.1 L580.3,180.1 L580.2,179.1 L580.1,178.1 L580.1,177.1 L580.0,176.1 L579.9,175.1 L579.8,174.1 L579.7,173.1 L579.6,172.1 L579.5,171.1 L579.4,170.1 L579.3,169.1 L579.2,168.1 L579.1,167.1 L579.0,166.1 L578.9,165.1 L578.8,164.1 L578.7,163.1 L578.6,162.1 L578.5,161.1 L578.4,160.1 L578.3,159.1 L578.3,158.1 L578.2,157.1 L578.1,156.1 L578.0,155.1 L577.9,154.1 L577.9,153.1 L577.8,152.1 L577.8,151.1 L577.7,150.1 L577.6,149.1 L577.6,148.1 L577.6,147.1 L577.5,146.1 L577.5,145.1 L577.4,144.1 L577.4,143.1 L577.4,142.1 L577.4,141.1 L577.3,140.1Z" fill="#2020df" stroke="#262626" stroke-width="1.0" stroke-linejoin="round"/>
<line x1="577.33" y1="115.1" x2="577.33" y2="140.1" stroke="#262626" stroke-opacity="0.72" stroke-width="1.2"/>
<line x1="577.33" y1="161" x2="577.33" y2="254.9" stroke="#262626" stroke-width="1.25"/>
<rect x="575.18" y="209.1" width="4.3" height="37.60" fill="#262626"/>
<rect x="575.48" y="235.70" width="3.7" height="1.4" fill="#e4e4e4"/>
<path d="M620.2,82.9 L620.2,83.9 L620.1,84.9 L620.1,85.9 L620.1,86.9 L620.0,87.9 L620.0,88.9 L620.0,89.9 L620.0,90.9 L619.9,91.9 L619.9,92.9 L619.8,93.9 L619.8,94.9 L619.7,95.9 L619.6,96.9 L619.5,97.9 L619.4,98.9 L619.3,99.9 L619.2,100.9 L619.1,101.9 L619.0,102.9 L618.9,103.9 L618.8,104.9 L618.7,105.9 L618.6,106.9 L618.5,107.9 L618.4,108.9 L618.3,109.9 L618.2,110.8 L618.1,111.8 L618.0,112.8 L617.9,113.8 L617.8,114.8 L617.7,115.8 L617.6,116.8 L617.5,117.8 L617.4,118.8 L617.3,119.8 L617.2,120.8 L617.1,121.8 L617.1,122.8 L617.0,123.8 L617.0,124.8 L616.9,125.8 L616.9,126.8 L616.8,127.8 L616.8,128.8 L616.8,129.8 L616.7,130.8 L616.7,131.8 L616.6,132.8 L616.6,133.8 L616.6,134.8 L616.5,135.8 L616.5,136.8 L616.5,137.8 L616.5,138.8 L616.5,139.8 L616.5,140.8 L616.5,141.8 L616.5,142.8 L616.5,143.8 L616.5,144.8 L616.5,145.8 L616.5,146.8 L616.5,147.8 L616.5,148.8 L616.5,149.7 L616.5,150.7 L616.5,151.7 L616.5,152.7 L616.5,153.7 L616.5,154.7 L616.5,155.7 L616.5,156.7 L616.5,157.7 L616.6,158.7 L616.6,159.7 L616.6,160.7 L616.7,161.7 L616.7,162.7 L616.7,163.7 L616.7,164.7 L616.8,165.7 L616.8,166.7 L616.9,167.7 L616.9,168.7 L617.0,169.7 L617.0,170.7 L617.1,171.7 L617.1,172.7 L617.1,173.7 L617.2,174.7 L617.2,175.7 L617.2,176.7 L617.3,177.7 L617.3,178.7 L617.3,179.7 L617.3,180.7 L617.3,181.7 L617.4,182.7 L617.4,183.7 L617.4,184.7 L617.4,185.7 L617.4,186.7 L617.4,187.7 L617.3,188.6 L617.3,189.6 L617.2,190.6 L617.1,191.6 L617.0,192.6 L616.9,193.6 L616.8,194.6 L616.7,195.6 L616.6,196.6 L616.5,197.6 L616.4,198.6 L616.3,199.6 L616.2,200.6 L616.1,201.6 L616.0,202.6 L615.9,203.6 L615.7,204.6 L615.6,205.6 L615.3,206.6 L614.9,207.6 L614.5,208.6 L614.1,209.6 L613.7,210.6 L613.3,211.6 L612.9,212.6 L612.5,213.6 L612.1,214.6 L611.7,215.6 L611.3,216.6 L610.9,217.6 L610.5,218.6 L610.1,219.6 L609.7,220.6 L609.3,221.6 L608.9,222.6 L608.6,223.6 L608.2,224.6 L607.9,225.6 L607.6,226.5 L607.2,227.5 L606.9,228.5 L606.5,229.5 L606.0,230.5 L605.5,231.5 L605.1,232.5 L604.6,233.5 L604.3,234.5 L604.1,235.5 L603.9,236.5 L603.7,237.5 L603.5,238.5 L603.4,239.5 L603.3,240.5 L603.3,241.5 L603.4,242.5 L603.4,243.5 L603.5,244.5 L603.6,245.5 L603.7,246.5 L603.9,247.5 L604.1,248.5 L604.5,249.5 L604.9,250.5 L605.4,251.5 L605.9,252.5 L606.4,253.5 L607.0,254.5 L607.7,255.5 L608.5,256.5 L609.2,257.5 L609.9,258.5 L610.6,259.5 L611.3,260.5 L612.0,261.5 L612.7,262.5 L613.4,263.5 L614.0,264.5 L614.5,265.4 L615.0,266.4 L615.5,267.4 L616.0,268.4 L616.4,269.4 L616.8,270.4 L617.1,271.4 L617.3,272.4 L617.5,273.4 L617.7,274.4 L618.0,275.4 L618.2,276.4 L618.5,277.4 L618.8,278.4 L619.1,279.4 L619.4,280.4 L619.7,281.4 L620.0,282.4 L620.2,283.4 L620.2,283.4 L620.4,282.4 L620.7,281.4 L621.0,280.4 L621.3,279.4 L621.6,278.4 L621.9,277.4 L622.2,276.4 L622.4,275.4 L622.6,274.4 L622.8,273.4 L623.1,272.4 L623.3,271.4 L623.6,270.4 L624.0,269.4 L624.4,268.4 L624.8,267.4 L625.3,266.4 L625.8,265.4 L626.4,264.5 L627.0,263.5 L627.7,262.5 L628.4,261.5 L629.1,260.5 L629.8,259.5 L630.5,258.5 L631.2,257.5 L631.9,256.5 L632.6,255.5 L633.3,254.5 L633.9,253.5 L634.4,252.5 L635.0,251.5 L635.4,250.5 L635.9,249.5 L636.2,248.5 L636.5,247.5 L636.6,246.5 L636.8,245.5 L636.9,244.5 L636.9,243.5 L637.0,242.5 L637.0,241.5 L637.0,240.5 L637.0,239.5 L636.8,238.5 L636.7,237.5 L636.5,236.5 L636.3,235.5 L636.1,234.5 L635.7,233.5 L635.3,232.5 L634.8,231.5 L634.4,230.5 L633.9,229.5 L633.5,228.5 L633.2,227.5 L632.8,226.5 L632.5,225.6 L632.1,224.6 L631.8,223.6 L631.4,222.6 L631.1,221.6 L630.7,220.6 L630.3,219.6 L629.9,218.6 L629.5,217.6 L629.1,216.6 L628.7,215.6 L628.3,214.6 L627.9,213.6 L627.5,212.6 L627.1,211.6 L626.7,210.6 L626.3,209.6 L625.8,208.6 L625.4,207.6 L625.1,206.6 L624.8,205.6 L624.6,204.6 L624.5,203.6 L624.4,202.6 L624.3,201.6 L624.2,200.6 L624.1,199.6 L624.0,198.6 L623.9,197.6 L623.8,196.6 L623.6,195.6 L623.5,194.6 L623.4,193.6 L623.4,192.6 L623.3,191.6 L623.2,190.6 L623.1,189.6 L623.0,188.6 L623.0,187.7 L623.0,186.7 L623.0,185.7 L623.0,184.7 L623.0,183.7 L623.0,182.7 L623.0,181.7 L623.0,180.7 L623.1,179.7 L623.1,178.7 L623.1,177.7 L623.1,176.7 L623.2,175.7 L623.2,174.7 L623.2,173.7 L623.3,172.7 L623.3,171.7 L623.4,170.7 L623.4,169.7 L623.5,168.7 L623.5,167.7 L623.6,166.7 L623.6,165.7 L623.6,164.7 L623.7,163.7 L623.7,162.7 L623.7,161.7 L623.7,160.7 L623.8,159.7 L623.8,158.7 L623.9,157.7 L623.9,156.7 L623.9,155.7 L623.9,154.7 L623.9,153.7 L623.9,152.7 L623.9,151.7 L623.9,150.7 L623.9,149.7 L623.9,148.8 L623.9,147.8 L623.9,146.8 L623.9,145.8 L623.9,144.8 L623.9,143.8 L623.9,142.8 L623.9,141.8 L623.9,140.8 L623.9,139.8 L623.9,138.8 L623.9,137.8 L623.9,136.8 L623.8,135.8 L623.8,134.8 L623.8,133.8 L623.7,132.8 L623.7,131.8 L623.6,130.8 L623.6,129.8 L623.6,128.8 L623.5,127.8 L623.5,126.8 L623.4,125.8 L623.4,124.8 L623.3,123.8 L623.3,122.8 L623.2,121.8 L623.2,120.8 L623.1,119.8 L623.0,118.8 L622.9,117.8 L622.8,116.8 L622.7,115.8 L622.6,114.8 L622.5,113.8 L622.4,112.8 L622.3,111.8 L622.2,110.8 L622.1,109.9 L622.0,108.9 L621.9,107.9 L621.8,106.9 L621.7,105.9 L621.6,104.9 L621.5,103.9 L621.4,102.9 L621.3,101.9 L621.2,100.9 L621.1,99.9 L621.0,98.9 L620.8,97.9 L620.7,96.9 L620.6,95.9 L620.6,94.9 L620.5,93.9 L620.5,92.9 L620.5,91.9 L620.4,90.9 L620.4,89.9 L620.4,88.9 L620.3,87.9 L620.3,86.9 L620.3,85.9 L620.2,84.9 L620.2,83.9 L620.2,82.9Z" fill="#dfdf20" stroke="#262626" stroke-width="1.0" stroke-linejoin="round"/>
<line x1="620.18" y1="14.1" x2="620.18" y2="82.9" stroke="#262626" stroke-opacity="0.72" stroke-width="1.2"/>
<line x1="620.18" y1="283.4" x2="620.18" y2="284.4" stroke="#262626" stroke-opacity="0.72" stroke-width="1.2"/>
<line x1="620.18" y1="101.6" x2="620.18" y2="255.5" stroke="#262626" stroke-width="1.25"/>
<rect x="618.03" y="179.3" width="4.3" height="69.30" fill="#262626"/>
<rect x="618.33" y="232.70" width="3.7" height="1.4" fill="#e4e4e4"/>
<path d="M663.0,147.2 L663.0,148.2 L662.9,149.2 L662.8,150.2 L662.7,151.2 L662.6,152.1 L662.5,153.1 L662.5,154.1 L662.4,155.1 L662.3,156.1 L662.2,157.1 L662.1,158.1 L662.0,159.1 L661.9,160.1 L661.8,161.1 L661.7,162.1 L661.5,163.1 L661.4,164.1 L661.2,165.1 L661.1,166.1 L660.9,167.1 L660.8,168.0 L660.7,169.0 L660.5,170.0 L660.4,171.0 L660.3,172.0 L660.1,173.0 L660.0,174.0 L659.9,175.0 L659.8,176.0 L659.6,177.0 L659.5,178.0 L659.4,179.0 L659.3,180.0 L659.1,181.0 L659.0,182.0 L659.0,183.0 L658.9,183.9 L658.8,184.9 L658.7,185.9 L658.7,186.9 L658.6,187.9 L658.6,188.9 L658.6,189.9 L658.6,190.9 L658.6,191.9 L658.6,192.9 L658.6,193.9 L658.7,194.9 L658.7,195.9 L658.8,196.9 L658.9,197.9 L658.9,198.9 L659.0,199.8 L659.0,200.8 L659.0,201.8 L659.0,202.8 L659.0,203.8 L659.0,204.8 L659.0,205.8 L659.0,206.8 L659.0,207.8 L658.9,208.8 L658.8,209.8 L658.8,210.8 L658.6,211.8 L658.4,212.8 L658.1,213.8 L657.8,214.8 L657.5,215.7 L657.1,216.7 L656.8,217.7 L656.4,218.7 L656.0,219.7 L655.6,220.7 L655.2,221.7 L654.8,222.7 L654.5,223.7 L654.2,224.7 L653.9,225.7 L653.6,226.7 L653.3,227.7 L652.9,228.7 L652.4,229.7 L651.9,230.7 L651.2,231.6 L650.5,232.6 L649.9,233.6 L649.3,234.6 L648.8,235.6 L648.2,236.6 L647.7,237.6 L647.2,238.6 L646.8,239.6 L646.6,240.6 L646.4,241.6 L646.3,242.6 L646.2,243.6 L646.3,244.6 L646.3,245.6 L646.4,246.6 L646.5,247.5 L646.8,248.5 L647.2,249.5 L647.7,250.5 L648.2,251.5 L648.8,252.5 L649.5,253.5 L650.5,254.5 L651.5,255.5 L652.6,256.5 L653.7,257.5 L654.8,258.5 L655.8,259.5 L656.8,260.5 L657.8,261.5 L658.6,262.5 L659.4,263.4 L660.1,264.4 L660.7,265.4 L661.3,266.4 L661.8,267.4 L662.2,268.4 L662.6,269.4 L663.0,270.4 L663.1,270.4 L663.4,269.4 L663.9,268.4 L664.3,267.4 L664.8,266.4 L665.4,265.4 L666.0,264.4 L666.7,263.4 L667.5,262.5 L668.3,261.5 L669.3,260.5 L670.3,259.5 L671.3,258.5 L672.4,257.5 L673.5,256.5 L674.6,255.5 L675.6,254.5 L676.5,253.5 L677.3,252.5 L677.9,251.5 L678.4,250.5 L678.8,249.5 L679.2,248.5 L679.5,247.5 L679.7,246.6 L679.8,245.6 L679.8,244.6 L679.8,243.6 L679.8,242.6 L679.7,241.6 L679.5,240.6 L679.3,239.6 L678.9,238.6 L678.4,237.6 L677.9,236.6 L677.3,235.6 L676.8,234.6 L676.2,233.6 L675.5,232.6 L674.9,231.6 L674.2,230.7 L673.7,229.7 L673.2,228.7 L672.8,227.7 L672.5,226.7 L672.2,225.7 L671.9,224.7 L671.6,223.7 L671.2,222.7 L670.9,221.7 L670.5,220.7 L670.1,219.7 L669.7,218.7 L669.3,217.7 L669.0,216.7 L668.6,215.7 L668.3,214.8 L667.9,213.8 L667.7,212.8 L667.4,211.8 L667.3,210.8 L667.2,209.8 L667.2,208.8 L667.1,207.8 L667.1,206.8 L667.0,205.8 L667.0,204.8 L667.0,203.8 L667.1,202.8 L667.1,201.8 L667.1,200.8 L667.1,199.8 L667.2,198.9 L667.2,197.9 L667.3,196.9 L667.4,195.9 L667.4,194.9 L667.4,193.9 L667.4,192.9 L667.4,191.9 L667.4,190.9 L667.4,189.9 L667.4,188.9 L667.4,187.9 L667.4,186.9 L667.4,185.9 L667.3,184.9 L667.2,183.9 L667.1,183.0 L667.0,182.0 L666.9,181.0 L666.8,180.0 L666.7,179.0 L666.6,178.0 L666.5,177.0 L666.3,176.0 L666.2,175.0 L666.1,174.0 L665.9,173.0 L665.8,172.0 L665.7,171.0 L665.6,170.0 L665.4,169.0 L665.3,168.0 L665.2,167.1 L665.0,166.1 L664.9,165.1 L664.7,164.1 L664.6,163.1 L664.4,162.1 L664.3,161.1 L664.2,160.1 L664.1,159.1 L664.0,158.1 L663.9,157.1 L663.8,156.1 L663.7,155.1 L663.6,154.1 L663.5,153.1 L663.5,152.1 L663.4,151.2 L663.3,150.2 L663.2,149.2 L663.1,148.2 L663.0,147.2Z" fill="#df2020" stroke="#262626" stroke-width="1.0" stroke-linejoin="round"/>
<line x1="663.04" y1="143.2" x2="663.04" y2="147.2" stroke="#262626" stroke-opacity="0.72" stroke-width="1.2"/>
<line x1="663.04" y1="270.4" x2="663.04" y2="271.4" stroke="#262626" stroke-opacity="0.72" stroke-width="1.2"/>
<line x1="663.04" y1="167.4" x2="663.04" y2="255.5" stroke="#262626" stroke-width="1.25"/>
<rect x="660.89" y="214.0" width="4.3" height="35.80" fill="#262626"/>
<rect x="661.19" y="235.80" width="3.7" height="1.4" fill="#e4e4e4"/>
<line x1="384" y1="0.5" x2="685" y2="0.5" stroke="#000" stroke-opacity="0.8" stroke-width="1.0"/>
<line x1="384" y1="298.3" x2="685" y2="298.3" stroke="#000" stroke-opacity="0.7" stroke-width="1.0"/>
<line x1="384.5" y1="0" x2="384.5" y2="298.8" stroke="#000" stroke-opacity="0.72" stroke-width="1.0"/>
<line x1="684.5" y1="0" x2="684.5" y2="298.8" stroke="#000" stroke-opacity="0.8" stroke-width="1.0"/>
<line x1="381.90" y1="255.30" x2="384.50" y2="255.30" stroke="#1a1a1a" stroke-width="0.95"/>
<text x="379.20" y="257.50" text-anchor="end" font-size="6.2">0</text>
<line x1="381.90" y1="194.58" x2="384.50" y2="194.58" stroke="#1a1a1a" stroke-width="0.95"/>
<text x="379.20" y="196.78" text-anchor="end" font-size="6.2">50</text>
<line x1="381.90" y1="133.85" x2="384.50" y2="133.85" stroke="#1a1a1a" stroke-width="0.95"/>
<text x="379.20" y="136.05" text-anchor="end" font-size="6.2">100</text>
<line x1="381.90" y1="73.13" x2="384.50" y2="73.13" stroke="#1a1a1a" stroke-width="0.95"/>
<text x="379.20" y="75.33" text-anchor="end" font-size="6.2">150</text>
<line x1="381.90" y1="12.40" x2="384.50" y2="12.40" stroke="#1a1a1a" stroke-width="0.95"/>
<text x="379.20" y="14.60" text-anchor="end" font-size="6.2">200</text>
<line x1="405.90" y1="298.10" x2="405.90" y2="300.90" stroke="#1a1a1a" stroke-width="0.95"/>
<text x="405.90" y="308.40" text-anchor="middle" font-size="6.2">DesiRNA</text>
<line x1="448.76" y1="298.10" x2="448.76" y2="300.90" stroke="#1a1a1a" stroke-width="0.95"/>
<text x="448.76" y="308.40" text-anchor="middle" font-size="6.2">RNAinverse</text>
<line x1="491.61" y1="298.10" x2="491.61" y2="300.90" stroke="#1a1a1a" stroke-width="0.95"/>
<text x="491.61" y="308.40" text-anchor="middle" font-size="6.2">DSS-Opt</text>
<line x1="534.47" y1="298.10" x2="534.47" y2="300.90" stroke="#1a1a1a" stroke-width="0.95"/>
<text x="534.47" y="308.40" text-anchor="middle" font-size="6.2">INFO-RNA</text>
<line x1="577.33" y1="298.10" x2="577.33" y2="300.90" stroke="#1a1a1a" stroke-width="0.95"/>
<text x="577.33" y="308.40" text-anchor="middle" font-size="6.2">RNAfbinv</text>
<line x1="620.18" y1="298.10" x2="620.18" y2="300.90" stroke="#1a1a1a" stroke-width="0.95"/>
<text x="620.18" y="308.40" text-anchor="middle" font-size="6.2">MetaLRNA</text>
<line x1="663.04" y1="298.10" x2="663.04" y2="300.90" stroke="#1a1a1a" stroke-width="0.95"/>
<text x="663.04" y="308.40" text-anchor="middle" font-size="6.2">RNARedPrint</text>
<text x="534.4" y="318" text-anchor="middle" font-size="7.7">Algorithm</text>
<text transform="translate(364.0,149.9) rotate(-90)" text-anchor="middle" font-size="7.9">RNApdist (less is better)</text>
<text x="351.5" y="307.7" font-size="15" style="stroke-width:0">B</text>
<path d="M54.4,350.3 L54.4,351.3 L54.3,352.3 L54.2,353.3 L54.2,354.3 L54.1,355.3 L54.0,356.3 L54.0,357.3 L53.9,358.3 L53.9,359.3 L53.8,360.3 L53.8,361.3 L53.7,362.3 L53.7,363.3 L53.7,364.3 L53.6,365.3 L53.6,366.3 L53.5,367.3 L53.5,368.3 L53.4,369.3 L53.4,370.3 L53.3,371.3 L53.2,372.3 L53.2,373.3 L53.1,374.3 L53.0,375.3 L53.0,376.3 L52.9,377.3 L52.8,378.3 L52.7,379.3 L52.6,380.3 L52.5,381.3 L52.4,382.3 L52.3,383.3 L52.2,384.3 L52.1,385.3 L52.0,386.3 L51.8,387.3 L51.7,388.3 L51.6,389.3 L51.5,390.3 L51.4,391.3 L51.3,392.3 L51.2,393.3 L51.1,394.3 L51.0,395.3 L50.9,396.3 L50.8,397.3 L50.7,398.3 L50.6,399.3 L50.5,400.3 L50.4,401.3 L50.3,402.3 L50.2,403.3 L50.1,404.3 L50.0,405.3 L49.9,406.3 L49.8,407.3 L49.6,408.3 L49.5,409.3 L49.4,410.3 L49.3,411.3 L49.2,412.3 L49.1,413.3 L48.9,414.3 L48.8,415.3 L48.6,416.3 L48.4,417.3 L48.2,418.3 L47.9,419.3 L47.7,420.3 L47.4,421.3 L47.1,422.3 L46.9,423.3 L46.6,424.3 L46.3,425.3 L46.0,426.3 L45.7,427.3 L45.4,428.3 L45.1,429.3 L44.9,430.3 L44.6,431.3 L44.3,432.3 L44.0,433.3 L43.7,434.3 L43.4,435.3 L43.2,436.3 L42.9,437.3 L42.6,438.3 L42.3,439.3 L42.0,440.3 L41.7,441.3 L41.3,442.3 L41.0,443.3 L40.6,444.3 L40.2,445.3 L39.9,446.3 L39.6,447.3 L39.3,448.3 L39.0,449.3 L38.7,450.3 L38.4,451.3 L38.3,452.3 L38.1,453.3 L38.0,454.3 L37.9,455.3 L37.8,456.3 L37.7,457.3 L37.6,458.3 L37.6,459.3 L37.6,460.3 L37.5,461.3 L37.5,462.3 L37.5,463.3 L37.5,464.3 L37.5,465.3 L37.6,466.3 L37.7,467.3 L37.8,468.3 L37.9,469.3 L38.0,470.3 L38.2,471.3 L38.3,472.3 L38.5,473.3 L38.7,474.3 L38.9,475.3 L39.2,476.3 L39.4,477.3 L39.6,478.3 L39.8,479.2 L40.1,480.2 L40.3,481.2 L40.6,482.2 L40.8,483.2 L41.0,484.2 L41.3,485.2 L41.5,486.2 L41.7,487.2 L42.0,488.2 L42.2,489.2 L42.4,490.2 L42.6,491.2 L42.8,492.2 L43.0,493.2 L43.2,494.2 L43.4,495.2 L43.6,496.2 L43.8,497.2 L44.0,498.2 L44.2,499.2 L44.3,500.2 L44.5,501.2 L44.7,502.2 L44.8,503.2 L45.0,504.2 L45.1,505.2 L45.2,506.2 L45.4,507.2 L45.5,508.2 L45.6,509.2 L45.7,510.2 L45.8,511.2 L45.9,512.2 L46.0,513.2 L46.1,514.2 L46.2,515.2 L46.3,516.2 L46.4,517.2 L46.5,518.2 L46.6,519.2 L46.6,520.2 L46.7,521.2 L46.8,522.2 L46.9,523.2 L47.0,524.2 L47.0,525.2 L47.1,526.2 L47.2,527.2 L47.3,528.2 L47.3,529.2 L47.4,530.2 L47.5,531.2 L47.6,532.2 L47.6,533.2 L47.7,534.2 L47.8,535.2 L47.9,536.2 L48.1,537.2 L48.2,538.2 L48.4,539.2 L48.6,540.2 L48.8,541.2 L49.0,542.2 L49.1,543.2 L49.2,544.2 L49.3,545.2 L49.4,546.2 L49.5,547.2 L49.6,548.2 L49.7,549.2 L49.7,550.2 L49.8,551.2 L49.9,552.2 L50.0,553.2 L50.1,554.2 L50.3,555.2 L50.4,556.2 L50.5,557.2 L50.6,558.2 L50.7,559.2 L50.8,560.2 L50.9,561.2 L51.0,562.2 L51.1,563.2 L51.2,564.2 L51.3,565.2 L51.4,566.2 L51.5,567.2 L51.6,568.2 L51.7,569.2 L51.8,570.2 L51.9,571.2 L52.0,572.2 L52.1,573.2 L52.2,574.2 L52.3,575.2 L52.4,576.2 L52.5,577.2 L52.5,578.2 L52.6,579.2 L52.7,580.2 L52.8,581.2 L52.9,582.2 L53.0,583.2 L53.0,584.2 L53.1,585.2 L53.2,586.2 L53.3,587.2 L53.4,588.2 L53.5,589.2 L53.6,590.2 L53.6,591.2 L53.7,592.2 L53.8,593.2 L53.9,594.2 L53.9,595.2 L54.0,596.2 L54.0,597.2 L54.1,598.2 L54.1,599.2 L54.1,600.2 L54.2,601.2 L54.2,602.2 L54.2,603.2 L54.3,604.2 L54.3,605.2 L54.4,606.2 L54.4,606.2 L54.5,605.2 L54.5,604.2 L54.6,603.2 L54.6,602.2 L54.6,601.2 L54.7,600.2 L54.7,599.2 L54.7,598.2 L54.8,597.2 L54.8,596.2 L54.9,595.2 L54.9,594.2 L55.0,593.2 L55.1,592.2 L55.2,591.2 L55.2,590.2 L55.3,589.2 L55.4,588.2 L55.5,587.2 L55.6,586.2 L55.7,585.2 L55.8,584.2 L55.8,583.2 L55.9,582.2 L56.0,581.2 L56.1,580.2 L56.2,579.2 L56.3,578.2 L56.3,577.2 L56.4,576.2 L56.5,575.2 L56.6,574.2 L56.7,573.2 L56.8,572.2 L56.9,571.2 L57.0,570.2 L57.1,569.2 L57.2,568.2 L57.3,567.2 L57.4,566.2 L57.5,565.2 L57.6,564.2 L57.7,563.2 L57.8,562.2 L57.9,561.2 L58.0,560.2 L58.1,559.2 L58.2,558.2 L58.3,557.2 L58.4,556.2 L58.5,555.2 L58.7,554.2 L58.8,553.2 L58.9,552.2 L59.0,551.2 L59.1,550.2 L59.1,549.2 L59.2,548.2 L59.3,547.2 L59.4,546.2 L59.5,545.2 L59.6,544.2 L59.7,543.2 L59.8,542.2 L60.0,541.2 L60.2,540.2 L60.4,539.2 L60.6,538.2 L60.7,537.2 L60.9,536.2 L61.0,535.2 L61.1,534.2 L61.2,533.2 L61.2,532.2 L61.3,531.2 L61.4,530.2 L61.5,529.2 L61.5,528.2 L61.6,527.2 L61.7,526.2 L61.8,525.2 L61.8,524.2 L61.9,523.2 L62.0,522.2 L62.1,521.2 L62.2,520.2 L62.2,519.2 L62.3,518.2 L62.4,517.2 L62.5,516.2 L62.6,515.2 L62.7,514.2 L62.8,513.2 L62.9,512.2 L63.0,511.2 L63.1,510.2 L63.2,509.2 L63.3,508.2 L63.4,507.2 L63.6,506.2 L63.7,505.2 L63.8,504.2 L64.0,503.2 L64.1,502.2 L64.3,501.2 L64.5,500.2 L64.6,499.2 L64.8,498.2 L65.0,497.2 L65.2,496.2 L65.4,495.2 L65.6,494.2 L65.8,493.2 L66.0,492.2 L66.2,491.2 L66.4,490.2 L66.6,489.2 L66.8,488.2 L67.1,487.2 L67.3,486.2 L67.5,485.2 L67.8,484.2 L68.0,483.2 L68.2,482.2 L68.5,481.2 L68.7,480.2 L69.0,479.2 L69.2,478.3 L69.4,477.3 L69.6,476.3 L69.9,475.3 L70.1,474.3 L70.3,473.3 L70.5,472.3 L70.6,471.3 L70.8,470.3 L70.9,469.3 L71.0,468.3 L71.1,467.3 L71.2,466.3 L71.3,465.3 L71.3,464.3 L71.3,463.3 L71.3,462.3 L71.3,461.3 L71.2,460.3 L71.2,459.3 L71.2,458.3 L71.1,457.3 L71.0,456.3 L70.9,455.3 L70.8,454.3 L70.7,453.3 L70.5,452.3 L70.4,451.3 L70.1,450.3 L69.8,449.3 L69.5,448.3 L69.2,447.3 L68.9,446.3 L68.6,445.3 L68.2,444.3 L67.8,443.3 L67.5,442.3 L67.1,441.3 L66.8,440.3 L66.5,439.3 L66.2,438.3 L65.9,437.3 L65.6,436.3 L65.4,435.3 L65.1,434.3 L64.8,433.3 L64.5,432.3 L64.2,431.3 L63.9,430.3 L63.7,429.3 L63.4,428.3 L63.1,427.3 L62.8,426.3 L62.5,425.3 L62.2,424.3 L61.9,423.3 L61.7,422.3 L61.4,421.3 L61.1,420.3 L60.9,419.3 L60.6,418.3 L60.4,417.3 L60.2,416.3 L60.0,415.3 L59.9,414.3 L59.7,413.3 L59.6,412.3 L59.5,411.3 L59.4,410.3 L59.3,409.3 L59.2,408.3 L59.0,407.3 L58.9,406.3 L58.8,405.3 L58.7,404.3 L58.6,403.3 L58.5,402.3 L58.4,401.3 L58.3,400.3 L58.2,399.3 L58.1,398.3 L58.0,397.3 L57.9,396.3 L57.8,395.3 L57.7,394.3 L57.6,393.3 L57.5,392.3 L57.4,391.3 L57.3,390.3 L57.2,389.3 L57.1,388.3 L57.0,387.3 L56.8,386.3 L56.7,385.3 L56.6,384.3 L56.5,383.3 L56.4,382.3 L56.3,381.3 L56.2,380.3 L56.1,379.3 L56.0,378.3 L55.9,377.3 L55.8,376.3 L55.8,375.3 L55.7,374.3 L55.6,373.3 L55.6,372.3 L55.5,371.3 L55.4,370.3 L55.4,369.3 L55.3,368.3 L55.3,367.3 L55.2,366.3 L55.2,365.3 L55.1,364.3 L55.1,363.3 L55.1,362.3 L55.0,361.3 L55.0,360.3 L54.9,359.3 L54.9,358.3 L54.8,357.3 L54.8,356.3 L54.7,355.3 L54.6,354.3 L54.6,353.3 L54.5,352.3 L54.4,351.3 L54.4,350.3Z" fill="#18a7a7" stroke="#262626" stroke-width="1.0" stroke-linejoin="round"/>
<line x1="54.40" y1="344.3" x2="54.40" y2="350.3" stroke="#262626" stroke-opacity="0.72" stroke-width="1.2"/>
<line x1="54.40" y1="606.2" x2="54.40" y2="614.2" stroke="#262626" stroke-opacity="0.72" stroke-width="1.2"/>
<line x1="54.40" y1="380.9" x2="54.40" y2="577.7" stroke="#262626" stroke-width="1.25"/>
<rect x="52.25" y="447.0" width="4.3" height="59.80" fill="#262626"/>
<rect x="52.55" y="468.10" width="3.7" height="1.4" fill="#e4e4e4"/>
<path d="M97.2,401.3 L97.2,402.3 L97.2,403.3 L97.1,404.3 L97.1,405.3 L97.1,406.3 L97.0,407.3 L97.0,408.3 L97.0,409.3 L96.9,410.3 L96.9,411.3 L96.8,412.3 L96.8,413.3 L96.7,414.3 L96.7,415.3 L96.6,416.3 L96.6,417.3 L96.6,418.3 L96.6,419.3 L96.5,420.3 L96.5,421.3 L96.5,422.3 L96.5,423.3 L96.4,424.3 L96.4,425.3 L96.4,426.3 L96.3,427.3 L96.3,428.3 L96.2,429.3 L96.1,430.3 L96.0,431.3 L95.9,432.3 L95.8,433.3 L95.7,434.3 L95.6,435.3 L95.5,436.3 L95.3,437.3 L95.2,438.3 L95.1,439.3 L94.9,440.3 L94.8,441.3 L94.6,442.3 L94.4,443.3 L94.3,444.3 L94.1,445.3 L93.9,446.3 L93.7,447.3 L93.5,448.3 L93.3,449.3 L93.1,450.3 L92.9,451.3 L92.7,452.3 L92.5,453.3 L92.2,454.3 L92.0,455.3 L91.8,456.3 L91.5,457.3 L91.3,458.3 L91.1,459.3 L90.9,460.3 L90.6,461.3 L90.4,462.3 L90.2,463.3 L89.9,464.3 L89.5,465.3 L89.1,466.3 L88.7,467.3 L88.2,468.3 L87.8,469.3 L87.3,470.3 L86.9,471.3 L86.5,472.3 L86.1,473.3 L85.6,474.3 L85.2,475.3 L84.9,476.3 L84.5,477.3 L84.1,478.3 L83.8,479.3 L83.4,480.3 L83.1,481.3 L82.8,482.3 L82.4,483.3 L82.1,484.3 L81.8,485.3 L81.5,486.3 L81.3,487.3 L81.1,488.3 L81.0,489.3 L80.8,490.3 L80.7,491.3 L80.6,492.3 L80.6,493.3 L80.6,494.3 L80.6,495.3 L80.6,496.3 L80.6,497.3 L80.6,498.3 L80.6,499.3 L80.7,500.3 L80.7,501.3 L80.8,502.2 L81.0,503.2 L81.2,504.2 L81.3,505.2 L81.5,506.2 L81.7,507.2 L81.9,508.2 L82.2,509.2 L82.4,510.2 L82.7,511.2 L82.9,512.2 L83.1,513.2 L83.4,514.2 L83.6,515.2 L83.8,516.2 L84.0,517.2 L84.2,518.2 L84.4,519.2 L84.6,520.2 L84.9,521.2 L85.1,522.2 L85.3,523.2 L85.5,524.2 L85.7,525.2 L85.9,526.2 L86.2,527.2 L86.4,528.2 L86.6,529.2 L86.8,530.2 L87.0,531.2 L87.3,532.2 L87.5,533.2 L87.7,534.2 L87.9,535.2 L88.1,536.2 L88.3,537.2 L88.5,538.2 L88.7,539.2 L88.8,540.2 L89.0,541.2 L89.2,542.2 L89.4,543.2 L89.6,544.2 L89.8,545.2 L89.9,546.2 L90.1,547.2 L90.3,548.2 L90.5,549.2 L90.7,550.2 L90.8,551.2 L91.0,552.2 L91.2,553.2 L91.3,554.2 L91.5,555.2 L91.7,556.2 L91.9,557.2 L92.1,558.2 L92.2,559.2 L92.4,560.2 L92.6,561.2 L92.7,562.2 L92.9,563.2 L93.1,564.2 L93.2,565.2 L93.4,566.2 L93.5,567.2 L93.7,568.2 L93.8,569.2 L94.0,570.2 L94.1,571.2 L94.2,572.2 L94.4,573.2 L94.5,574.2 L94.6,575.2 L94.8,576.2 L94.9,577.2 L95.0,578.2 L95.1,579.2 L95.2,580.2 L95.3,581.2 L95.4,582.2 L95.5,583.2 L95.6,584.2 L95.7,585.2 L95.8,586.2 L95.9,587.2 L96.0,588.2 L96.1,589.2 L96.2,590.2 L96.3,591.2 L96.3,592.2 L96.4,593.2 L96.5,594.2 L96.6,595.2 L96.6,596.2 L96.7,597.2 L96.8,598.2 L96.8,599.2 L96.9,600.2 L97.0,601.2 L97.0,602.2 L97.1,603.2 L97.2,604.2 L97.3,605.2 L97.3,605.2 L97.3,604.2 L97.4,603.2 L97.5,602.2 L97.6,601.2 L97.6,600.2 L97.7,599.2 L97.8,598.2 L97.8,597.2 L97.9,596.2 L98.0,595.2 L98.0,594.2 L98.1,593.2 L98.2,592.2 L98.2,591.2 L98.3,590.2 L98.4,589.2 L98.5,588.2 L98.6,587.2 L98.7,586.2 L98.8,585.2 L98.9,584.2 L99.0,583.2 L99.1,582.2 L99.2,581.2 L99.3,580.2 L99.4,579.2 L99.5,578.2 L99.6,577.2 L99.8,576.2 L99.9,575.2 L100.0,574.2 L100.1,573.2 L100.3,572.2 L100.4,571.2 L100.6,570.2 L100.7,569.2 L100.8,568.2 L101.0,567.2 L101.1,566.2 L101.3,565.2 L101.5,564.2 L101.6,563.2 L101.8,562.2 L102.0,561.2 L102.1,560.2 L102.3,559.2 L102.5,558.2 L102.6,557.2 L102.8,556.2 L103.0,555.2 L103.2,554.2 L103.3,553.2 L103.5,552.2 L103.7,551.2 L103.9,550.2 L104.0,549.2 L104.2,548.2 L104.4,547.2 L104.6,546.2 L104.8,545.2 L104.9,544.2 L105.1,543.2 L105.3,542.2 L105.5,541.2 L105.7,540.2 L105.9,539.2 L106.0,538.2 L106.2,537.2 L106.4,536.2 L106.6,535.2 L106.8,534.2 L107.0,533.2 L107.3,532.2 L107.5,531.2 L107.7,530.2 L107.9,529.2 L108.1,528.2 L108.4,527.2 L108.6,526.2 L108.8,525.2 L109.0,524.2 L109.2,523.2 L109.4,522.2 L109.7,521.2 L109.9,520.2 L110.1,519.2 L110.3,518.2 L110.5,517.2 L110.7,516.2 L110.9,515.2 L111.2,514.2 L111.4,513.2 L111.6,512.2 L111.8,511.2 L112.1,510.2 L112.3,509.2 L112.6,508.2 L112.8,507.2 L113.0,506.2 L113.2,505.2 L113.4,504.2 L113.5,503.2 L113.7,502.2 L113.8,501.3 L113.8,500.3 L113.9,499.3 L113.9,498.3 L113.9,497.3 L113.9,496.3 L114.0,495.3 L114.0,494.3 L113.9,493.3 L113.9,492.3 L113.8,491.3 L113.7,490.3 L113.5,489.3 L113.4,488.3 L113.2,487.3 L113.0,486.3 L112.7,485.3 L112.4,484.3 L112.1,483.3 L111.7,482.3 L111.4,481.3 L111.1,480.3 L110.7,479.3 L110.4,478.3 L110.0,477.3 L109.7,476.3 L109.3,475.3 L108.9,474.3 L108.4,473.3 L108.0,472.3 L107.6,471.3 L107.2,470.3 L106.7,469.3 L106.3,468.3 L105.8,467.3 L105.4,466.3 L105.0,465.3 L104.6,464.3 L104.3,463.3 L104.1,462.3 L103.9,461.3 L103.7,460.3 L103.4,459.3 L103.2,458.3 L103.0,457.3 L102.7,456.3 L102.5,455.3 L102.3,454.3 L102.0,453.3 L101.8,452.3 L101.6,451.3 L101.4,450.3 L101.2,449.3 L101.0,448.3 L100.8,447.3 L100.6,446.3 L100.4,445.3 L100.3,444.3 L100.1,443.3 L99.9,442.3 L99.8,441.3 L99.6,440.3 L99.5,439.3 L99.3,438.3 L99.2,437.3 L99.0,436.3 L98.9,435.3 L98.8,434.3 L98.7,433.3 L98.6,432.3 L98.5,431.3 L98.4,430.3 L98.3,429.3 L98.2,428.3 L98.2,427.3 L98.1,426.3 L98.1,425.3 L98.1,424.3 L98.1,423.3 L98.0,422.3 L98.0,421.3 L98.0,420.3 L98.0,419.3 L97.9,418.3 L97.9,417.3 L97.9,416.3 L97.8,415.3 L97.8,414.3 L97.7,413.3 L97.7,412.3 L97.6,411.3 L97.6,410.3 L97.6,409.3 L97.5,408.3 L97.5,407.3 L97.4,406.3 L97.4,405.3 L97.4,404.3 L97.3,403.3 L97.3,402.3 L97.3,401.3Z" fill="#107010" stroke="#262626" stroke-width="1.0" stroke-linejoin="round"/>
<line x1="97.26" y1="394.3" x2="97.26" y2="401.3" stroke="#262626" stroke-opacity="0.72" stroke-width="1.2"/>
<line x1="97.26" y1="605.2" x2="97.26" y2="610.2" stroke="#262626" stroke-opacity="0.72" stroke-width="1.2"/>
<line x1="97.26" y1="447" x2="97.26" y2="582" stroke="#262626" stroke-width="1.25"/>
<rect x="95.11" y="483.4" width="4.3" height="43.70" fill="#262626"/>
<rect x="95.41" y="499.70" width="3.7" height="1.4" fill="#e4e4e4"/>
<path d="M140.1,354.8 L140.1,355.8 L140.0,356.8 L139.9,357.8 L139.9,358.8 L139.8,359.8 L139.8,360.8 L139.7,361.8 L139.7,362.8 L139.6,363.8 L139.6,364.8 L139.5,365.8 L139.4,366.8 L139.4,367.8 L139.3,368.8 L139.2,369.8 L139.2,370.8 L139.1,371.7 L139.0,372.7 L138.9,373.7 L138.9,374.7 L138.8,375.7 L138.7,376.7 L138.6,377.7 L138.5,378.7 L138.4,379.7 L138.3,380.7 L138.3,381.7 L138.2,382.7 L138.1,383.7 L138.0,384.7 L137.8,385.7 L137.7,386.7 L137.6,387.7 L137.5,388.7 L137.4,389.7 L137.3,390.7 L137.1,391.7 L137.0,392.7 L136.9,393.7 L136.8,394.7 L136.7,395.7 L136.6,396.7 L136.5,397.7 L136.3,398.7 L136.2,399.7 L136.1,400.7 L136.0,401.7 L135.8,402.7 L135.7,403.7 L135.6,404.7 L135.4,405.7 L135.3,406.7 L135.2,407.7 L135.0,408.7 L134.9,409.7 L134.8,410.7 L134.6,411.7 L134.5,412.7 L134.4,413.7 L134.2,414.7 L134.0,415.6 L133.8,416.6 L133.5,417.6 L133.1,418.6 L132.7,419.6 L132.3,420.6 L131.9,421.6 L131.5,422.6 L131.1,423.6 L130.7,424.6 L130.3,425.6 L130.0,426.6 L129.6,427.6 L129.2,428.6 L128.9,429.6 L128.6,430.6 L128.3,431.6 L127.9,432.6 L127.6,433.6 L127.3,434.6 L127.0,435.6 L126.7,436.6 L126.4,437.6 L126.2,438.6 L125.9,439.6 L125.7,440.6 L125.5,441.6 L125.2,442.6 L125.1,443.6 L124.9,444.6 L124.7,445.6 L124.5,446.6 L124.3,447.6 L124.2,448.6 L124.0,449.6 L123.9,450.6 L123.8,451.6 L123.7,452.6 L123.6,453.6 L123.5,454.6 L123.4,455.6 L123.4,456.6 L123.3,457.6 L123.3,458.6 L123.3,459.6 L123.3,460.5 L123.2,461.5 L123.2,462.5 L123.2,463.5 L123.2,464.5 L123.3,465.5 L123.5,466.5 L123.7,467.5 L123.9,468.5 L124.1,469.5 L124.3,470.5 L124.5,471.5 L124.7,472.5 L124.9,473.5 L125.2,474.5 L125.4,475.5 L125.6,476.5 L125.9,477.5 L126.2,478.5 L126.4,479.5 L126.7,480.5 L127.0,481.5 L127.2,482.5 L127.5,483.5 L127.8,484.5 L128.0,485.5 L128.3,486.5 L128.5,487.5 L128.7,488.5 L128.9,489.5 L129.1,490.5 L129.3,491.5 L129.5,492.5 L129.6,493.5 L129.8,494.5 L129.9,495.5 L130.1,496.5 L130.2,497.5 L130.3,498.5 L130.5,499.5 L130.6,500.5 L130.7,501.5 L130.8,502.5 L130.9,503.5 L130.9,504.4 L131.0,505.4 L131.1,506.4 L131.2,507.4 L131.2,508.4 L131.3,509.4 L131.4,510.4 L131.4,511.4 L131.5,512.4 L131.6,513.4 L131.7,514.4 L131.8,515.4 L131.9,516.4 L132.0,517.4 L132.1,518.4 L132.2,519.4 L132.2,520.4 L132.3,521.4 L132.5,522.4 L132.6,523.4 L132.7,524.4 L132.8,525.4 L132.9,526.4 L133.0,527.4 L133.1,528.4 L133.2,529.4 L133.3,530.4 L133.4,531.4 L133.5,532.4 L133.7,533.4 L133.8,534.4 L133.9,535.4 L134.0,536.4 L134.1,537.4 L134.2,538.4 L134.4,539.4 L134.5,540.4 L134.6,541.4 L134.7,542.4 L134.8,543.4 L134.9,544.4 L135.0,545.4 L135.1,546.4 L135.2,547.4 L135.4,548.4 L135.5,549.3 L135.6,550.3 L135.7,551.3 L135.8,552.3 L135.9,553.3 L136.0,554.3 L136.2,555.3 L136.2,556.3 L136.3,557.3 L136.4,558.3 L136.5,559.3 L136.7,560.3 L136.8,561.3 L136.9,562.3 L137.0,563.3 L137.2,564.3 L137.3,565.3 L137.4,566.3 L137.5,567.3 L137.7,568.3 L137.8,569.3 L137.9,570.3 L138.0,571.3 L138.1,572.3 L138.2,573.3 L138.3,574.3 L138.4,575.3 L138.5,576.3 L138.5,577.3 L138.6,578.3 L138.7,579.3 L138.8,580.3 L138.8,581.3 L138.9,582.3 L139.0,583.3 L139.0,584.3 L139.1,585.3 L139.2,586.3 L139.2,587.3 L139.3,588.3 L139.3,589.3 L139.4,590.3 L139.4,591.3 L139.5,592.3 L139.5,593.2 L139.6,594.2 L139.6,595.2 L139.7,596.2 L139.7,597.2 L139.7,598.2 L139.8,599.2 L139.8,600.2 L139.8,601.2 L139.9,602.2 L139.9,603.2 L139.9,604.2 L140.0,605.2 L140.0,606.2 L140.1,607.2 L140.1,608.2 L140.1,608.2 L140.2,607.2 L140.2,606.2 L140.2,605.2 L140.3,604.2 L140.3,603.2 L140.4,602.2 L140.4,601.2 L140.4,600.2 L140.5,599.2 L140.5,598.2 L140.5,597.2 L140.6,596.2 L140.6,595.2 L140.6,594.2 L140.7,593.2 L140.7,592.3 L140.8,591.3 L140.8,590.3 L140.9,589.3 L140.9,588.3 L141.0,587.3 L141.1,586.3 L141.1,585.3 L141.2,584.3 L141.3,583.3 L141.3,582.3 L141.4,581.3 L141.5,580.3 L141.5,579.3 L141.6,578.3 L141.7,577.3 L141.8,576.3 L141.9,575.3 L141.9,574.3 L142.0,573.3 L142.1,572.3 L142.2,571.3 L142.3,570.3 L142.4,569.3 L142.6,568.3 L142.7,567.3 L142.8,566.3 L142.9,565.3 L143.1,564.3 L143.2,563.3 L143.3,562.3 L143.5,561.3 L143.6,560.3 L143.7,559.3 L143.8,558.3 L143.9,557.3 L144.0,556.3 L144.1,555.3 L144.2,554.3 L144.3,553.3 L144.4,552.3 L144.5,551.3 L144.6,550.3 L144.8,549.3 L144.9,548.4 L145.0,547.4 L145.1,546.4 L145.2,545.4 L145.3,544.4 L145.4,543.4 L145.5,542.4 L145.6,541.4 L145.8,540.4 L145.9,539.4 L146.0,538.4 L146.1,537.4 L146.2,536.4 L146.3,535.4 L146.5,534.4 L146.6,533.4 L146.7,532.4 L146.8,531.4 L146.9,530.4 L147.0,529.4 L147.1,528.4 L147.3,527.4 L147.4,526.4 L147.5,525.4 L147.6,524.4 L147.7,523.4 L147.8,522.4 L147.9,521.4 L148.0,520.4 L148.1,519.4 L148.2,518.4 L148.3,517.4 L148.4,516.4 L148.5,515.4 L148.6,514.4 L148.6,513.4 L148.7,512.4 L148.8,511.4 L148.9,510.4 L148.9,509.4 L149.0,508.4 L149.1,507.4 L149.1,506.4 L149.2,505.4 L149.3,504.4 L149.4,503.5 L149.5,502.5 L149.6,501.5 L149.7,500.5 L149.8,499.5 L149.9,498.5 L150.0,497.5 L150.2,496.5 L150.3,495.5 L150.4,494.5 L150.6,493.5 L150.8,492.5 L150.9,491.5 L151.1,490.5 L151.3,489.5 L151.5,488.5 L151.7,487.5 L152.0,486.5 L152.2,485.5 L152.5,484.5 L152.7,483.5 L153.0,482.5 L153.2,481.5 L153.5,480.5 L153.8,479.5 L154.1,478.5 L154.3,477.5 L154.6,476.5 L154.8,475.5 L155.1,474.5 L155.3,473.5 L155.5,472.5 L155.7,471.5 L155.9,470.5 L156.1,469.5 L156.3,468.5 L156.5,467.5 L156.7,466.5 L156.9,465.5 L157.0,464.5 L157.0,463.5 L157.0,462.5 L157.0,461.5 L157.0,460.5 L157.0,459.6 L156.9,458.6 L156.9,457.6 L156.9,456.6 L156.8,455.6 L156.7,454.6 L156.7,453.6 L156.6,452.6 L156.5,451.6 L156.4,450.6 L156.2,449.6 L156.1,448.6 L155.9,447.6 L155.7,446.6 L155.5,445.6 L155.4,444.6 L155.2,443.6 L155.0,442.6 L154.8,441.6 L154.6,440.6 L154.3,439.6 L154.1,438.6 L153.8,437.6 L153.5,436.6 L153.2,435.6 L152.9,434.6 L152.6,433.6 L152.3,432.6 L152.0,431.6 L151.6,430.6 L151.3,429.6 L151.0,428.6 L150.6,427.6 L150.3,426.6 L149.9,425.6 L149.5,424.6 L149.1,423.6 L148.8,422.6 L148.4,421.6 L148.0,420.6 L147.5,419.6 L147.1,418.6 L146.7,417.6 L146.4,416.6 L146.2,415.6 L146.0,414.7 L145.9,413.7 L145.7,412.7 L145.6,411.7 L145.5,410.7 L145.3,409.7 L145.2,408.7 L145.0,407.7 L144.9,406.7 L144.8,405.7 L144.7,404.7 L144.5,403.7 L144.4,402.7 L144.3,401.7 L144.1,400.7 L144.0,399.7 L143.9,398.7 L143.8,397.7 L143.7,396.7 L143.5,395.7 L143.4,394.7 L143.3,393.7 L143.2,392.7 L143.1,391.7 L143.0,390.7 L142.8,389.7 L142.7,388.7 L142.6,387.7 L142.5,386.7 L142.4,385.7 L142.3,384.7 L142.2,383.7 L142.1,382.7 L142.0,381.7 L141.9,380.7 L141.8,379.7 L141.7,378.7 L141.6,377.7 L141.5,376.7 L141.5,375.7 L141.4,374.7 L141.3,373.7 L141.2,372.7 L141.1,371.7 L141.1,370.8 L141.0,369.8 L140.9,368.8 L140.8,367.8 L140.8,366.8 L140.7,365.8 L140.7,364.8 L140.6,363.8 L140.5,362.8 L140.5,361.8 L140.4,360.8 L140.4,359.8 L140.3,358.8 L140.3,357.8 L140.2,356.8 L140.2,355.8 L140.1,354.8Z" fill="#a7a718" stroke="#262626" stroke-width="1.0" stroke-linejoin="round"/>
<line x1="140.11" y1="348.8" x2="140.11" y2="354.8" stroke="#262626" stroke-opacity="0.72" stroke-width="1.2"/>
<line x1="140.11" y1="608.2" x2="140.11" y2="615.2" stroke="#262626" stroke-opacity="0.72" stroke-width="1.2"/>
<line x1="140.11" y1="385" x2="140.11" y2="578.5" stroke="#262626" stroke-width="1.25"/>
<rect x="137.96" y="452.2" width="4.3" height="55.80" fill="#262626"/>
<rect x="138.26" y="464.60" width="3.7" height="1.4" fill="#e4e4e4"/>
<path d="M183.0,416.9 L182.9,417.9 L182.8,418.9 L182.7,419.9 L182.6,420.9 L182.5,421.9 L182.4,422.9 L182.3,423.9 L182.3,424.9 L182.2,425.9 L182.2,426.9 L182.2,427.9 L182.1,428.9 L182.1,429.9 L182.1,430.9 L182.1,431.9 L182.0,432.9 L182.0,433.9 L182.0,434.9 L182.0,435.9 L181.9,436.9 L181.9,437.8 L181.9,438.8 L181.9,439.8 L181.8,440.8 L181.8,441.8 L181.8,442.8 L181.8,443.8 L181.7,444.8 L181.7,445.8 L181.6,446.8 L181.6,447.8 L181.5,448.8 L181.4,449.8 L181.4,450.8 L181.3,451.8 L181.2,452.8 L181.1,453.8 L180.9,454.8 L180.7,455.8 L180.6,456.8 L180.4,457.8 L180.2,458.8 L180.0,459.8 L179.8,460.8 L179.6,461.8 L179.4,462.8 L179.2,463.8 L179.0,464.8 L178.7,465.8 L178.5,466.8 L178.3,467.8 L178.1,468.8 L177.9,469.8 L177.7,470.8 L177.5,471.8 L177.3,472.8 L177.1,473.8 L176.8,474.8 L176.6,475.8 L176.4,476.8 L176.2,477.8 L175.9,478.8 L175.7,479.8 L175.5,480.8 L175.2,481.8 L175.0,482.8 L174.8,483.8 L174.5,484.8 L174.3,485.8 L174.0,486.7 L173.7,487.7 L173.4,488.7 L173.1,489.7 L172.7,490.7 L172.3,491.7 L171.9,492.7 L171.5,493.7 L171.1,494.7 L170.7,495.7 L170.3,496.7 L170.0,497.7 L169.6,498.7 L169.3,499.7 L168.9,500.7 L168.6,501.7 L168.2,502.7 L167.9,503.7 L167.6,504.7 L167.3,505.7 L167.1,506.7 L166.9,507.7 L166.6,508.7 L166.4,509.7 L166.3,510.7 L166.2,511.7 L166.2,512.7 L166.2,513.7 L166.2,514.7 L166.2,515.7 L166.3,516.7 L166.3,517.7 L166.3,518.7 L166.4,519.7 L166.5,520.7 L166.6,521.7 L166.8,522.7 L166.9,523.7 L167.1,524.7 L167.2,525.7 L167.4,526.7 L167.6,527.7 L167.8,528.7 L168.0,529.7 L168.2,530.7 L168.5,531.7 L168.8,532.7 L169.1,533.7 L169.4,534.7 L169.7,535.6 L169.9,536.6 L170.1,537.6 L170.3,538.6 L170.5,539.6 L170.6,540.6 L170.8,541.6 L171.0,542.6 L171.2,543.6 L171.4,544.6 L171.6,545.6 L171.8,546.6 L172.0,547.6 L172.3,548.6 L172.5,549.6 L172.7,550.6 L173.0,551.6 L173.2,552.6 L173.5,553.6 L173.7,554.6 L174.0,555.6 L174.2,556.6 L174.5,557.6 L174.7,558.6 L175.0,559.6 L175.2,560.6 L175.5,561.6 L175.8,562.6 L176.1,563.6 L176.4,564.6 L176.7,565.6 L176.9,566.6 L177.2,567.6 L177.5,568.6 L177.8,569.6 L178.1,570.6 L178.3,571.6 L178.6,572.6 L178.8,573.6 L179.0,574.6 L179.2,575.6 L179.4,576.6 L179.6,577.6 L179.8,578.6 L179.9,579.6 L180.1,580.6 L180.3,581.6 L180.4,582.6 L180.6,583.6 L180.8,584.5 L180.9,585.5 L181.1,586.5 L181.2,587.5 L181.4,588.5 L181.5,589.5 L181.7,590.5 L181.8,591.5 L181.9,592.5 L182.1,593.5 L182.2,594.5 L182.3,595.5 L182.4,596.5 L182.5,597.5 L182.5,598.5 L182.6,599.5 L182.6,600.5 L182.7,601.5 L182.7,602.5 L182.8,603.5 L182.9,604.5 L183.0,605.5 L183.0,605.5 L183.1,604.5 L183.2,603.5 L183.2,602.5 L183.3,601.5 L183.3,600.5 L183.3,599.5 L183.4,598.5 L183.5,597.5 L183.5,596.5 L183.6,595.5 L183.7,594.5 L183.9,593.5 L184.0,592.5 L184.1,591.5 L184.3,590.5 L184.4,589.5 L184.6,588.5 L184.7,587.5 L184.9,586.5 L185.0,585.5 L185.2,584.5 L185.3,583.6 L185.5,582.6 L185.7,581.6 L185.8,580.6 L186.0,579.6 L186.2,578.6 L186.4,577.6 L186.5,576.6 L186.7,575.6 L186.9,574.6 L187.2,573.6 L187.4,572.6 L187.6,571.6 L187.9,570.6 L188.2,569.6 L188.4,568.6 L188.7,567.6 L189.0,566.6 L189.3,565.6 L189.6,564.6 L189.9,563.6 L190.1,562.6 L190.4,561.6 L190.7,560.6 L191.0,559.6 L191.2,558.6 L191.5,557.6 L191.7,556.6 L192.0,555.6 L192.2,554.6 L192.5,553.6 L192.7,552.6 L193.0,551.6 L193.2,550.6 L193.4,549.6 L193.7,548.6 L193.9,547.6 L194.1,546.6 L194.3,545.6 L194.5,544.6 L194.7,543.6 L194.9,542.6 L195.1,541.6 L195.3,540.6 L195.5,539.6 L195.7,538.6 L195.8,537.6 L196.0,536.6 L196.3,535.6 L196.5,534.7 L196.8,533.7 L197.1,532.7 L197.4,531.7 L197.7,530.7 L197.9,529.7 L198.2,528.7 L198.4,527.7 L198.5,526.7 L198.7,525.7 L198.9,524.7 L199.0,523.7 L199.2,522.7 L199.3,521.7 L199.5,520.7 L199.6,519.7 L199.6,518.7 L199.7,517.7 L199.7,516.7 L199.7,515.7 L199.7,514.7 L199.7,513.7 L199.7,512.7 L199.7,511.7 L199.6,510.7 L199.5,509.7 L199.3,508.7 L199.1,507.7 L198.8,506.7 L198.6,505.7 L198.3,504.7 L198.0,503.7 L197.7,502.7 L197.4,501.7 L197.0,500.7 L196.7,499.7 L196.3,498.7 L196.0,497.7 L195.6,496.7 L195.2,495.7 L194.8,494.7 L194.5,493.7 L194.1,492.7 L193.7,491.7 L193.3,490.7 L192.9,489.7 L192.5,488.7 L192.2,487.7 L191.9,486.7 L191.7,485.8 L191.4,484.8 L191.2,483.8 L191.0,482.8 L190.7,481.8 L190.5,480.8 L190.2,479.8 L190.0,478.8 L189.8,477.8 L189.5,476.8 L189.3,475.8 L189.1,474.8 L188.9,473.8 L188.7,472.8 L188.4,471.8 L188.2,470.8 L188.0,469.8 L187.8,468.8 L187.6,467.8 L187.4,466.8 L187.2,465.8 L187.0,464.8 L186.8,463.8 L186.6,462.8 L186.3,461.8 L186.1,460.8 L185.9,459.8 L185.7,458.8 L185.5,457.8 L185.4,456.8 L185.2,455.8 L185.0,454.8 L184.9,453.8 L184.8,452.8 L184.7,451.8 L184.6,450.8 L184.5,449.8 L184.4,448.8 L184.4,447.8 L184.3,446.8 L184.3,445.8 L184.2,444.8 L184.2,443.8 L184.2,442.8 L184.1,441.8 L184.1,440.8 L184.1,439.8 L184.0,438.8 L184.0,437.8 L184.0,436.9 L184.0,435.9 L184.0,434.9 L183.9,433.9 L183.9,432.9 L183.9,431.9 L183.9,430.9 L183.8,429.9 L183.8,428.9 L183.8,427.9 L183.7,426.9 L183.7,425.9 L183.6,424.9 L183.6,423.9 L183.5,422.9 L183.5,421.9 L183.4,420.9 L183.3,419.9 L183.2,418.9 L183.1,417.9 L183.0,416.9Z" fill="#a718a7" stroke="#262626" stroke-width="1.0" stroke-linejoin="round"/>
<line x1="182.97" y1="412.9" x2="182.97" y2="416.9" stroke="#262626" stroke-opacity="0.72" stroke-width="1.2"/>
<line x1="182.97" y1="605.5" x2="182.97" y2="608.5" stroke="#262626" stroke-opacity="0.72" stroke-width="1.2"/>
<line x1="182.97" y1="439.5" x2="182.97" y2="582.2" stroke="#262626" stroke-width="1.25"/>
<rect x="180.82" y="501.1" width="4.3" height="45.20" fill="#262626"/>
<rect x="181.12" y="519.20" width="3.7" height="1.4" fill="#e4e4e4"/>
<path d="M225.8,404.6 L225.8,405.6 L225.7,406.6 L225.7,407.6 L225.6,408.6 L225.6,409.6 L225.5,410.5 L225.5,411.5 L225.4,412.5 L225.4,413.5 L225.3,414.5 L225.3,415.5 L225.2,416.5 L225.1,417.5 L225.1,418.5 L225.0,419.5 L224.9,420.5 L224.8,421.5 L224.7,422.5 L224.7,423.5 L224.6,424.5 L224.5,425.5 L224.4,426.5 L224.4,427.5 L224.3,428.5 L224.2,429.5 L224.1,430.5 L224.0,431.5 L224.0,432.5 L223.9,433.4 L223.8,434.4 L223.7,435.4 L223.6,436.4 L223.5,437.4 L223.4,438.4 L223.3,439.4 L223.2,440.4 L223.1,441.4 L223.0,442.4 L222.9,443.4 L222.8,444.4 L222.7,445.4 L222.6,446.4 L222.5,447.4 L222.3,448.4 L222.2,449.4 L222.1,450.4 L222.0,451.4 L221.8,452.4 L221.7,453.4 L221.6,454.4 L221.4,455.3 L221.3,456.3 L221.1,457.3 L221.0,458.3 L220.8,459.3 L220.7,460.3 L220.5,461.3 L220.4,462.3 L220.2,463.3 L220.0,464.3 L219.7,465.3 L219.4,466.3 L219.0,467.3 L218.6,468.3 L218.3,469.3 L217.9,470.3 L217.6,471.3 L217.2,472.3 L216.9,473.3 L216.5,474.3 L216.2,475.3 L215.8,476.3 L215.5,477.3 L215.1,478.2 L214.8,479.2 L214.4,480.2 L214.1,481.2 L213.8,482.2 L213.4,483.2 L213.1,484.2 L212.8,485.2 L212.5,486.2 L212.2,487.2 L211.9,488.2 L211.6,489.2 L211.3,490.2 L211.1,491.2 L210.8,492.2 L210.6,493.2 L210.4,494.2 L210.2,495.2 L210.0,496.2 L209.8,497.2 L209.7,498.2 L209.5,499.2 L209.4,500.2 L209.3,501.1 L209.2,502.1 L209.1,503.1 L209.1,504.1 L209.0,505.1 L209.0,506.1 L209.0,507.1 L209.1,508.1 L209.1,509.1 L209.2,510.1 L209.3,511.1 L209.3,512.1 L209.5,513.1 L209.7,514.1 L210.0,515.1 L210.3,516.1 L210.6,517.1 L210.8,518.1 L211.1,519.1 L211.4,520.1 L211.7,521.1 L212.0,522.1 L212.3,523.0 L212.6,524.0 L212.9,525.0 L213.3,526.0 L213.6,527.0 L214.0,528.0 L214.3,529.0 L214.6,530.0 L215.0,531.0 L215.3,532.0 L215.6,533.0 L215.9,534.0 L216.2,535.0 L216.5,536.0 L216.8,537.0 L217.1,538.0 L217.3,539.0 L217.6,540.0 L217.8,541.0 L218.0,542.0 L218.2,543.0 L218.4,544.0 L218.6,545.0 L218.8,545.9 L219.0,546.9 L219.1,547.9 L219.2,548.9 L219.4,549.9 L219.5,550.9 L219.6,551.9 L219.6,552.9 L219.7,553.9 L219.8,554.9 L219.8,555.9 L219.9,556.9 L219.9,557.9 L220.0,558.9 L220.1,559.9 L220.2,560.9 L220.2,561.9 L220.4,562.9 L220.5,563.9 L220.6,564.9 L220.7,565.9 L220.8,566.9 L221.0,567.9 L221.1,568.8 L221.3,569.8 L221.4,570.8 L221.6,571.8 L221.8,572.8 L221.9,573.8 L222.1,574.8 L222.3,575.8 L222.4,576.8 L222.6,577.8 L222.8,578.8 L223.0,579.8 L223.1,580.8 L223.3,581.8 L223.5,582.8 L223.7,583.8 L223.9,584.8 L224.0,585.8 L224.2,586.8 L224.3,587.8 L224.5,588.8 L224.6,589.8 L224.7,590.7 L224.8,591.7 L224.9,592.7 L225.0,593.7 L225.2,594.7 L225.3,595.7 L225.4,596.7 L225.6,597.7 L225.8,598.7 L225.8,599.7 L225.8,599.7 L225.9,598.7 L226.0,597.7 L226.2,596.7 L226.4,595.7 L226.5,594.7 L226.6,593.7 L226.7,592.7 L226.8,591.7 L226.9,590.7 L227.1,589.8 L227.2,588.8 L227.3,587.8 L227.5,586.8 L227.6,585.8 L227.8,584.8 L228.0,583.8 L228.1,582.8 L228.3,581.8 L228.5,580.8 L228.7,579.8 L228.9,578.8 L229.1,577.8 L229.2,576.8 L229.4,575.8 L229.6,574.8 L229.7,573.8 L229.9,572.8 L230.1,571.8 L230.2,570.8 L230.4,569.8 L230.5,568.8 L230.7,567.9 L230.8,566.9 L230.9,565.9 L231.1,564.9 L231.2,563.9 L231.3,562.9 L231.4,561.9 L231.5,560.9 L231.6,559.9 L231.7,558.9 L231.7,557.9 L231.8,556.9 L231.8,555.9 L231.9,554.9 L231.9,553.9 L232.0,552.9 L232.1,551.9 L232.2,550.9 L232.3,549.9 L232.4,548.9 L232.5,547.9 L232.7,546.9 L232.8,545.9 L233.0,545.0 L233.2,544.0 L233.4,543.0 L233.6,542.0 L233.9,541.0 L234.1,540.0 L234.3,539.0 L234.6,538.0 L234.9,537.0 L235.1,536.0 L235.4,535.0 L235.7,534.0 L236.0,533.0 L236.4,532.0 L236.7,531.0 L237.0,530.0 L237.4,529.0 L237.7,528.0 L238.1,527.0 L238.4,526.0 L238.7,525.0 L239.1,524.0 L239.4,523.0 L239.7,522.1 L240.0,521.1 L240.3,520.1 L240.5,519.1 L240.8,518.1 L241.1,517.1 L241.4,516.1 L241.7,515.1 L242.0,514.1 L242.2,513.1 L242.3,512.1 L242.4,511.1 L242.5,510.1 L242.5,509.1 L242.6,508.1 L242.6,507.1 L242.6,506.1 L242.6,505.1 L242.6,504.1 L242.5,503.1 L242.4,502.1 L242.3,501.1 L242.2,500.2 L242.1,499.2 L242.0,498.2 L241.8,497.2 L241.7,496.2 L241.5,495.2 L241.3,494.2 L241.1,493.2 L240.8,492.2 L240.6,491.2 L240.3,490.2 L240.1,489.2 L239.8,488.2 L239.5,487.2 L239.2,486.2 L238.9,485.2 L238.6,484.2 L238.2,483.2 L237.9,482.2 L237.6,481.2 L237.2,480.2 L236.9,479.2 L236.5,478.2 L236.2,477.3 L235.8,476.3 L235.5,475.3 L235.1,474.3 L234.8,473.3 L234.4,472.3 L234.1,471.3 L233.7,470.3 L233.4,469.3 L233.0,468.3 L232.6,467.3 L232.3,466.3 L232.0,465.3 L231.7,464.3 L231.5,463.3 L231.3,462.3 L231.1,461.3 L231.0,460.3 L230.8,459.3 L230.7,458.3 L230.5,457.3 L230.4,456.3 L230.2,455.3 L230.1,454.4 L230.0,453.4 L229.8,452.4 L229.7,451.4 L229.6,450.4 L229.4,449.4 L229.3,448.4 L229.2,447.4 L229.1,446.4 L229.0,445.4 L228.8,444.4 L228.7,443.4 L228.6,442.4 L228.5,441.4 L228.4,440.4 L228.3,439.4 L228.2,438.4 L228.1,437.4 L228.0,436.4 L228.0,435.4 L227.9,434.4 L227.8,433.4 L227.7,432.5 L227.6,431.5 L227.5,430.5 L227.4,429.5 L227.4,428.5 L227.3,427.5 L227.2,426.5 L227.1,425.5 L227.1,424.5 L227.0,423.5 L226.9,422.5 L226.8,421.5 L226.8,420.5 L226.7,419.5 L226.6,418.5 L226.5,417.5 L226.5,416.5 L226.4,415.5 L226.3,414.5 L226.3,413.5 L226.2,412.5 L226.2,411.5 L226.1,410.5 L226.1,409.6 L226.0,408.6 L226.0,407.6 L225.9,406.6 L225.9,405.6 L225.8,404.6Z" fill="#2020df" stroke="#262626" stroke-width="1.0" stroke-linejoin="round"/>
<line x1="225.83" y1="398.6" x2="225.83" y2="404.6" stroke="#262626" stroke-opacity="0.72" stroke-width="1.2"/>
<line x1="225.83" y1="599.7" x2="225.83" y2="601.7" stroke="#262626" stroke-opacity="0.72" stroke-width="1.2"/>
<line x1="225.83" y1="441.1" x2="225.83" y2="573.3" stroke="#262626" stroke-width="1.25"/>
<rect x="223.68" y="488.2" width="4.3" height="41.50" fill="#262626"/>
<rect x="223.98" y="505.80" width="3.7" height="1.4" fill="#e4e4e4"/>
<path d="M268.7,357.2 L268.6,358.2 L268.5,359.2 L268.5,360.2 L268.4,361.2 L268.4,362.2 L268.3,363.2 L268.3,364.2 L268.3,365.1 L268.2,366.1 L268.1,367.1 L268.1,368.1 L268.0,369.1 L267.9,370.1 L267.8,371.1 L267.7,372.1 L267.6,373.1 L267.5,374.1 L267.4,375.1 L267.3,376.1 L267.3,377.1 L267.2,378.1 L267.1,379.1 L267.0,380.1 L266.9,381.1 L266.8,382.1 L266.7,383.1 L266.6,384.1 L266.5,385.1 L266.4,386.1 L266.3,387.1 L266.2,388.1 L266.1,389.1 L266.0,390.1 L265.9,391.0 L265.8,392.0 L265.7,393.0 L265.6,394.0 L265.5,395.0 L265.4,396.0 L265.3,397.0 L265.2,398.0 L265.1,399.0 L264.9,400.0 L264.8,401.0 L264.7,402.0 L264.5,403.0 L264.4,404.0 L264.2,405.0 L264.1,406.0 L264.0,407.0 L263.8,408.0 L263.7,409.0 L263.5,410.0 L263.4,411.0 L263.3,412.0 L263.2,413.0 L263.0,414.0 L262.9,415.0 L262.7,416.0 L262.5,417.0 L262.2,417.9 L261.9,418.9 L261.6,419.9 L261.2,420.9 L260.9,421.9 L260.6,422.9 L260.3,423.9 L259.9,424.9 L259.6,425.9 L259.3,426.9 L258.9,427.9 L258.6,428.9 L258.2,429.9 L257.9,430.9 L257.5,431.9 L257.2,432.9 L256.8,433.9 L256.5,434.9 L256.2,435.9 L255.8,436.9 L255.5,437.9 L255.2,438.9 L254.9,439.9 L254.6,440.9 L254.4,441.9 L254.1,442.9 L253.9,443.8 L253.6,444.8 L253.4,445.8 L253.2,446.8 L253.0,447.8 L252.8,448.8 L252.7,449.8 L252.5,450.8 L252.4,451.8 L252.3,452.8 L252.2,453.8 L252.1,454.8 L252.1,455.8 L252.0,456.8 L252.0,457.8 L252.0,458.8 L252.0,459.8 L252.0,460.8 L251.9,461.8 L251.9,462.8 L251.9,463.8 L252.0,464.8 L252.1,465.8 L252.2,466.8 L252.4,467.8 L252.6,468.8 L252.8,469.8 L253.0,470.7 L253.2,471.7 L253.5,472.7 L253.7,473.7 L253.9,474.7 L254.2,475.7 L254.5,476.7 L254.8,477.7 L255.1,478.7 L255.5,479.7 L255.8,480.7 L256.2,481.7 L256.5,482.7 L256.9,483.7 L257.2,484.7 L257.5,485.7 L257.8,486.7 L258.1,487.7 L258.3,488.7 L258.6,489.7 L258.8,490.7 L258.9,491.7 L259.1,492.7 L259.3,493.7 L259.4,494.7 L259.6,495.7 L259.7,496.6 L259.9,497.6 L260.0,498.6 L260.1,499.6 L260.1,500.6 L260.2,501.6 L260.2,502.6 L260.3,503.6 L260.3,504.6 L260.4,505.6 L260.4,506.6 L260.4,507.6 L260.5,508.6 L260.5,509.6 L260.5,510.6 L260.6,511.6 L260.6,512.6 L260.7,513.6 L260.7,514.6 L260.8,515.6 L260.8,516.6 L260.9,517.6 L260.9,518.6 L261.0,519.6 L261.0,520.6 L261.1,521.6 L261.1,522.6 L261.2,523.5 L261.3,524.5 L261.3,525.5 L261.4,526.5 L261.5,527.5 L261.6,528.5 L261.6,529.5 L261.7,530.5 L261.8,531.5 L261.9,532.5 L262.0,533.5 L262.1,534.5 L262.2,535.5 L262.3,536.5 L262.5,537.5 L262.6,538.5 L262.7,539.5 L262.8,540.5 L262.9,541.5 L263.0,542.5 L263.2,543.5 L263.3,544.5 L263.4,545.5 L263.5,546.5 L263.7,547.5 L263.8,548.5 L263.9,549.4 L264.0,550.4 L264.1,551.4 L264.2,552.4 L264.3,553.4 L264.4,554.4 L264.5,555.4 L264.6,556.4 L264.7,557.4 L264.7,558.4 L264.8,559.4 L264.9,560.4 L265.1,561.4 L265.2,562.4 L265.3,563.4 L265.5,564.4 L265.7,565.4 L265.8,566.4 L265.9,567.4 L266.1,568.4 L266.2,569.4 L266.3,570.4 L266.5,571.4 L266.6,572.4 L266.7,573.4 L266.8,574.4 L266.9,575.4 L267.0,576.3 L267.1,577.3 L267.2,578.3 L267.3,579.3 L267.3,580.3 L267.4,581.3 L267.5,582.3 L267.6,583.3 L267.6,584.3 L267.7,585.3 L267.8,586.3 L267.8,587.3 L267.9,588.3 L268.0,589.3 L268.0,590.3 L268.1,591.3 L268.1,592.3 L268.2,593.3 L268.2,594.3 L268.2,595.3 L268.3,596.3 L268.3,597.3 L268.4,598.3 L268.4,599.3 L268.4,600.3 L268.5,601.3 L268.5,602.2 L268.5,603.2 L268.6,604.2 L268.6,605.2 L268.7,606.2 L268.7,606.2 L268.7,605.2 L268.8,604.2 L268.8,603.2 L268.9,602.2 L268.9,601.3 L269.0,600.3 L269.0,599.3 L269.0,598.3 L269.1,597.3 L269.1,596.3 L269.1,595.3 L269.2,594.3 L269.2,593.3 L269.3,592.3 L269.3,591.3 L269.4,590.3 L269.4,589.3 L269.5,588.3 L269.5,587.3 L269.6,586.3 L269.7,585.3 L269.7,584.3 L269.8,583.3 L269.9,582.3 L270.0,581.3 L270.0,580.3 L270.1,579.3 L270.2,578.3 L270.3,577.3 L270.4,576.3 L270.5,575.4 L270.5,574.4 L270.7,573.4 L270.8,572.4 L270.9,571.4 L271.0,570.4 L271.2,569.4 L271.3,568.4 L271.4,567.4 L271.6,566.4 L271.7,565.4 L271.9,564.4 L272.0,563.4 L272.2,562.4 L272.3,561.4 L272.4,560.4 L272.5,559.4 L272.6,558.4 L272.7,557.4 L272.8,556.4 L272.9,555.4 L272.9,554.4 L273.0,553.4 L273.1,552.4 L273.2,551.4 L273.4,550.4 L273.5,549.4 L273.6,548.5 L273.7,547.5 L273.8,546.5 L273.9,545.5 L274.1,544.5 L274.2,543.5 L274.3,542.5 L274.4,541.5 L274.6,540.5 L274.7,539.5 L274.8,538.5 L274.9,537.5 L275.0,536.5 L275.1,535.5 L275.2,534.5 L275.3,533.5 L275.5,532.5 L275.5,531.5 L275.6,530.5 L275.7,529.5 L275.8,528.5 L275.9,527.5 L276.0,526.5 L276.0,525.5 L276.1,524.5 L276.2,523.5 L276.2,522.6 L276.3,521.6 L276.3,520.6 L276.4,519.6 L276.5,518.6 L276.5,517.6 L276.6,516.6 L276.6,515.6 L276.7,514.6 L276.7,513.6 L276.8,512.6 L276.8,511.6 L276.8,510.6 L276.9,509.6 L276.9,508.6 L276.9,507.6 L277.0,506.6 L277.0,505.6 L277.0,504.6 L277.1,503.6 L277.1,502.6 L277.2,501.6 L277.2,500.6 L277.3,499.6 L277.4,498.6 L277.5,497.6 L277.6,496.6 L277.8,495.7 L277.9,494.7 L278.1,493.7 L278.2,492.7 L278.4,491.7 L278.6,490.7 L278.8,489.7 L279.0,488.7 L279.3,487.7 L279.5,486.7 L279.8,485.7 L280.2,484.7 L280.5,483.7 L280.9,482.7 L281.2,481.7 L281.5,480.7 L281.9,479.7 L282.2,478.7 L282.6,477.7 L282.9,476.7 L283.2,475.7 L283.4,474.7 L283.7,473.7 L283.9,472.7 L284.1,471.7 L284.3,470.7 L284.5,469.8 L284.7,468.8 L284.9,467.8 L285.1,466.8 L285.3,465.8 L285.4,464.8 L285.4,463.8 L285.4,462.8 L285.4,461.8 L285.4,460.8 L285.4,459.8 L285.4,458.8 L285.4,457.8 L285.4,456.8 L285.3,455.8 L285.2,454.8 L285.2,453.8 L285.1,452.8 L285.0,451.8 L284.8,450.8 L284.7,449.8 L284.5,448.8 L284.3,447.8 L284.2,446.8 L284.0,445.8 L283.7,444.8 L283.5,443.8 L283.3,442.9 L283.0,441.9 L282.7,440.9 L282.4,439.9 L282.2,438.9 L281.9,437.9 L281.5,436.9 L281.2,435.9 L280.9,434.9 L280.5,433.9 L280.2,432.9 L279.9,431.9 L279.5,430.9 L279.2,429.9 L278.8,428.9 L278.5,427.9 L278.1,426.9 L277.8,425.9 L277.4,424.9 L277.1,423.9 L276.8,422.9 L276.5,421.9 L276.1,420.9 L275.8,419.9 L275.5,418.9 L275.2,417.9 L274.9,417.0 L274.7,416.0 L274.5,415.0 L274.4,414.0 L274.2,413.0 L274.1,412.0 L274.0,411.0 L273.8,410.0 L273.7,409.0 L273.5,408.0 L273.4,407.0 L273.3,406.0 L273.1,405.0 L273.0,404.0 L272.8,403.0 L272.7,402.0 L272.6,401.0 L272.4,400.0 L272.3,399.0 L272.2,398.0 L272.1,397.0 L272.0,396.0 L271.9,395.0 L271.7,394.0 L271.6,393.0 L271.5,392.0 L271.4,391.0 L271.3,390.1 L271.2,389.1 L271.1,388.1 L271.0,387.1 L270.9,386.1 L270.8,385.1 L270.8,384.1 L270.7,383.1 L270.6,382.1 L270.5,381.1 L270.4,380.1 L270.3,379.1 L270.2,378.1 L270.1,377.1 L270.0,376.1 L269.9,375.1 L269.8,374.1 L269.8,373.1 L269.7,372.1 L269.6,371.1 L269.5,370.1 L269.4,369.1 L269.3,368.1 L269.2,367.1 L269.2,366.1 L269.1,365.1 L269.1,364.2 L269.0,363.2 L269.0,362.2 L268.9,361.2 L268.9,360.2 L268.8,359.2 L268.8,358.2 L268.7,357.2Z" fill="#dfdf20" stroke="#262626" stroke-width="1.0" stroke-linejoin="round"/>
<line x1="268.69" y1="351.2" x2="268.69" y2="357.2" stroke="#262626" stroke-opacity="0.72" stroke-width="1.2"/>
<line x1="268.69" y1="606.2" x2="268.69" y2="615.2" stroke="#262626" stroke-opacity="0.72" stroke-width="1.2"/>
<line x1="268.69" y1="388" x2="268.69" y2="578.1" stroke="#262626" stroke-width="1.25"/>
<rect x="266.54" y="445.2" width="4.3" height="66.30" fill="#262626"/>
<rect x="266.83" y="462.80" width="3.7" height="1.4" fill="#e4e4e4"/>
<path d="M311.5,416.1 L311.5,417.1 L311.4,418.1 L311.4,419.1 L311.3,420.1 L311.2,421.1 L311.1,422.1 L311.0,423.1 L310.8,424.1 L310.6,425.1 L310.5,426.1 L310.3,427.1 L310.1,428.1 L310.0,429.1 L309.8,430.1 L309.7,431.1 L309.5,432.1 L309.4,433.1 L309.2,434.1 L309.1,435.1 L308.9,436.1 L308.8,437.1 L308.7,438.1 L308.5,439.1 L308.4,440.1 L308.2,441.1 L308.1,442.1 L308.0,443.1 L307.8,444.1 L307.7,445.1 L307.5,446.1 L307.4,447.1 L307.2,448.1 L307.1,449.1 L306.9,450.1 L306.7,451.1 L306.5,452.1 L306.3,453.1 L306.1,454.1 L305.9,455.1 L305.6,456.1 L305.4,457.1 L305.1,458.1 L304.8,459.1 L304.5,460.1 L304.1,461.1 L303.7,462.1 L303.4,463.1 L303.0,464.1 L302.7,465.1 L302.3,466.1 L302.0,467.1 L301.7,468.1 L301.3,469.1 L301.0,470.1 L300.7,471.1 L300.4,472.1 L300.1,473.1 L299.8,474.1 L299.5,475.1 L299.2,476.1 L299.0,477.1 L298.7,478.1 L298.4,479.1 L298.2,480.1 L298.0,481.1 L297.7,482.1 L297.5,483.1 L297.3,484.1 L297.1,485.1 L296.9,486.1 L296.7,487.1 L296.5,488.1 L296.3,489.1 L296.2,490.1 L296.0,491.1 L295.8,492.1 L295.7,493.1 L295.5,494.1 L295.4,495.1 L295.3,496.1 L295.2,497.1 L295.1,498.1 L295.0,499.1 L294.9,500.1 L294.9,501.1 L294.8,502.1 L294.8,503.1 L294.8,504.1 L294.7,505.1 L294.7,506.1 L294.8,507.1 L294.8,508.1 L294.9,509.1 L295.0,510.0 L295.1,511.0 L295.1,512.0 L295.2,513.0 L295.4,514.0 L295.5,515.0 L295.6,516.0 L295.7,517.0 L295.8,518.0 L296.0,519.0 L296.1,520.0 L296.2,521.0 L296.3,522.0 L296.4,523.0 L296.5,524.0 L296.7,525.0 L296.8,526.0 L296.9,527.0 L297.0,528.0 L297.1,529.0 L297.2,530.0 L297.4,531.0 L297.5,532.0 L297.6,533.0 L297.8,534.0 L297.9,535.0 L298.0,536.0 L298.2,537.0 L298.4,538.0 L298.5,539.0 L298.7,540.0 L298.9,541.0 L299.0,542.0 L299.2,543.0 L299.4,544.0 L299.6,545.0 L299.8,546.0 L300.0,547.0 L300.1,548.0 L300.3,549.0 L300.5,550.0 L300.7,551.0 L300.9,552.0 L301.1,553.0 L301.3,554.0 L301.6,555.0 L301.8,556.0 L302.1,557.0 L302.3,558.0 L302.6,559.0 L302.8,560.0 L303.1,561.0 L303.4,562.0 L303.7,563.0 L304.0,564.0 L304.3,565.0 L304.6,566.0 L304.9,567.0 L305.2,568.0 L305.5,569.0 L305.8,570.0 L306.1,571.0 L306.4,572.0 L306.7,573.0 L307.0,574.0 L307.2,575.0 L307.5,576.0 L307.8,577.0 L308.1,578.0 L308.3,579.0 L308.5,580.0 L308.8,581.0 L309.0,582.0 L309.2,583.0 L309.4,584.0 L309.5,585.0 L309.7,586.0 L309.9,587.0 L310.0,588.0 L310.2,589.0 L310.3,590.0 L310.5,591.0 L310.6,592.0 L310.7,593.0 L310.8,594.0 L310.9,595.0 L311.0,596.0 L311.1,597.0 L311.2,598.0 L311.3,599.0 L311.4,600.0 L311.5,601.0 L311.5,602.0 L311.5,602.0 L311.6,601.0 L311.7,600.0 L311.8,599.0 L311.9,598.0 L311.9,597.0 L312.0,596.0 L312.1,595.0 L312.2,594.0 L312.4,593.0 L312.5,592.0 L312.6,591.0 L312.7,590.0 L312.9,589.0 L313.0,588.0 L313.2,587.0 L313.4,586.0 L313.5,585.0 L313.7,584.0 L313.9,583.0 L314.1,582.0 L314.3,581.0 L314.5,580.0 L314.8,579.0 L315.0,578.0 L315.3,577.0 L315.6,576.0 L315.8,575.0 L316.1,574.0 L316.4,573.0 L316.7,572.0 L317.0,571.0 L317.3,570.0 L317.6,569.0 L317.9,568.0 L318.2,567.0 L318.4,566.0 L318.7,565.0 L319.0,564.0 L319.3,563.0 L319.7,562.0 L320.0,561.0 L320.2,560.0 L320.5,559.0 L320.8,558.0 L321.0,557.0 L321.3,556.0 L321.5,555.0 L321.7,554.0 L322.0,553.0 L322.2,552.0 L322.4,551.0 L322.6,550.0 L322.7,549.0 L322.9,548.0 L323.1,547.0 L323.3,546.0 L323.5,545.0 L323.7,544.0 L323.9,543.0 L324.0,542.0 L324.2,541.0 L324.4,540.0 L324.6,539.0 L324.7,538.0 L324.9,537.0 L325.0,536.0 L325.2,535.0 L325.3,534.0 L325.5,533.0 L325.6,532.0 L325.7,531.0 L325.8,530.0 L326.0,529.0 L326.1,528.0 L326.2,527.0 L326.3,526.0 L326.4,525.0 L326.5,524.0 L326.7,523.0 L326.8,522.0 L326.9,521.0 L327.0,520.0 L327.1,519.0 L327.2,518.0 L327.4,517.0 L327.5,516.0 L327.6,515.0 L327.7,514.0 L327.8,513.0 L327.9,512.0 L328.0,511.0 L328.1,510.0 L328.2,509.1 L328.3,508.1 L328.3,507.1 L328.3,506.1 L328.3,505.1 L328.3,504.1 L328.3,503.1 L328.2,502.1 L328.2,501.1 L328.1,500.1 L328.1,499.1 L328.0,498.1 L327.9,497.1 L327.8,496.1 L327.7,495.1 L327.5,494.1 L327.4,493.1 L327.3,492.1 L327.1,491.1 L326.9,490.1 L326.7,489.1 L326.6,488.1 L326.4,487.1 L326.2,486.1 L326.0,485.1 L325.8,484.1 L325.6,483.1 L325.4,482.1 L325.1,481.1 L324.9,480.1 L324.6,479.1 L324.4,478.1 L324.1,477.1 L323.9,476.1 L323.6,475.1 L323.3,474.1 L323.0,473.1 L322.7,472.1 L322.4,471.1 L322.1,470.1 L321.7,469.1 L321.4,468.1 L321.1,467.1 L320.7,466.1 L320.4,465.1 L320.1,464.1 L319.7,463.1 L319.3,462.1 L319.0,461.1 L318.6,460.1 L318.3,459.1 L318.0,458.1 L317.7,457.1 L317.4,456.1 L317.2,455.1 L317.0,454.1 L316.8,453.1 L316.6,452.1 L316.4,451.1 L316.2,450.1 L316.0,449.1 L315.9,448.1 L315.7,447.1 L315.6,446.1 L315.4,445.1 L315.3,444.1 L315.1,443.1 L315.0,442.1 L314.8,441.1 L314.7,440.1 L314.6,439.1 L314.4,438.1 L314.3,437.1 L314.1,436.1 L314.0,435.1 L313.9,434.1 L313.7,433.1 L313.6,432.1 L313.4,431.1 L313.3,430.1 L313.1,429.1 L313.0,428.1 L312.8,427.1 L312.6,426.1 L312.5,425.1 L312.3,424.1 L312.1,423.1 L312.0,422.1 L311.9,421.1 L311.8,420.1 L311.7,419.1 L311.7,418.1 L311.6,417.1 L311.6,416.1Z" fill="#df2020" stroke="#262626" stroke-width="1.0" stroke-linejoin="round"/>
<line x1="311.54" y1="410.1" x2="311.54" y2="416.1" stroke="#262626" stroke-opacity="0.72" stroke-width="1.2"/>
<line x1="311.54" y1="602.0" x2="311.54" y2="608.0" stroke="#262626" stroke-opacity="0.72" stroke-width="1.2"/>
<line x1="311.54" y1="439.3" x2="311.54" y2="579.2" stroke="#262626" stroke-width="1.25"/>
<rect x="309.39" y="488.7" width="4.3" height="50.60" fill="#262626"/>
<rect x="309.69" y="507.60" width="3.7" height="1.4" fill="#e4e4e4"/>
<line x1="32.5" y1="331.0" x2="333.5" y2="331.0" stroke="#000" stroke-opacity="0.75" stroke-width="1.0"/>
<line x1="32.5" y1="628.5" x2="333.5" y2="628.5" stroke="#000" stroke-opacity="0.62" stroke-width="1.0"/>
<line x1="33.0" y1="330.5" x2="33.0" y2="629" stroke="#000" stroke-opacity="0.75" stroke-width="1.0"/>
<line x1="333.0" y1="330.5" x2="333.0" y2="629" stroke="#000" stroke-opacity="0.75" stroke-width="1.0"/>
<line x1="30.30" y1="615.30" x2="32.90" y2="615.30" stroke="#1a1a1a" stroke-width="0.95"/>
<text x="27.60" y="617.50" text-anchor="end" font-size="6.2">0</text>
<line x1="30.30" y1="581.13" x2="32.90" y2="581.13" stroke="#1a1a1a" stroke-width="0.95"/>
<text x="27.60" y="583.33" text-anchor="end" font-size="6.2">20</text>
<line x1="30.30" y1="546.96" x2="32.90" y2="546.96" stroke="#1a1a1a" stroke-width="0.95"/>
<text x="27.60" y="549.16" text-anchor="end" font-size="6.2">40</text>
<line x1="30.30" y1="512.79" x2="32.90" y2="512.79" stroke="#1a1a1a" stroke-width="0.95"/>
<text x="27.60" y="514.99" text-anchor="end" font-size="6.2">60</text>
<line x1="30.30" y1="478.62" x2="32.90" y2="478.62" stroke="#1a1a1a" stroke-width="0.95"/>
<text x="27.60" y="480.82" text-anchor="end" font-size="6.2">80</text>
<line x1="30.30" y1="444.45" x2="32.90" y2="444.45" stroke="#1a1a1a" stroke-width="0.95"/>
<text x="27.60" y="446.65" text-anchor="end" font-size="6.2">100</text>
<line x1="30.30" y1="410.28" x2="32.90" y2="410.28" stroke="#1a1a1a" stroke-width="0.95"/>
<text x="27.60" y="412.48" text-anchor="end" font-size="6.2">120</text>
<line x1="30.30" y1="376.11" x2="32.90" y2="376.11" stroke="#1a1a1a" stroke-width="0.95"/>
<text x="27.60" y="378.31" text-anchor="end" font-size="6.2">140</text>
<line x1="30.30" y1="341.94" x2="32.90" y2="341.94" stroke="#1a1a1a" stroke-width="0.95"/>
<text x="27.60" y="344.14" text-anchor="end" font-size="6.2">160</text>
<line x1="54.40" y1="628.60" x2="54.40" y2="631.40" stroke="#1a1a1a" stroke-width="0.95"/>
<text x="54.40" y="638.90" text-anchor="middle" font-size="6.2">DesiRNA</text>
<line x1="97.26" y1="628.60" x2="97.26" y2="631.40" stroke="#1a1a1a" stroke-width="0.95"/>
<text x="97.26" y="638.90" text-anchor="middle" font-size="6.2">RNAinverse</text>
<line x1="140.11" y1="628.60" x2="140.11" y2="631.40" stroke="#1a1a1a" stroke-width="0.95"/>
<text x="140.11" y="638.90" text-anchor="middle" font-size="6.2">DSS-Opt</text>
<line x1="182.97" y1="628.60" x2="182.97" y2="631.40" stroke="#1a1a1a" stroke-width="0.95"/>
<text x="182.97" y="638.90" text-anchor="middle" font-size="6.2">INFO-RNA</text>
<line x1="225.83" y1="628.60" x2="225.83" y2="631.40" stroke="#1a1a1a" stroke-width="0.95"/>
<text x="225.83" y="638.90" text-anchor="middle" font-size="6.2">RNAfbinv</text>
<line x1="268.69" y1="628.60" x2="268.69" y2="631.40" stroke="#1a1a1a" stroke-width="0.95"/>
<text x="268.69" y="638.90" text-anchor="middle" font-size="6.2">MetaLRNA</text>
<line x1="311.54" y1="628.60" x2="311.54" y2="631.40" stroke="#1a1a1a" stroke-width="0.95"/>
<text x="311.54" y="638.90" text-anchor="middle" font-size="6.2">RNARedPrint</text>
<text x="183" y="648.6" text-anchor="middle" font-size="7.7">Algorithm</text>
<text transform="translate(12.4,480.5) rotate(-90)" text-anchor="middle" font-size="7.9">RNApdist (less is better)</text>
<text x="0.2" y="638.2" font-size="14.5" style="stroke-width:0">C</text>
</svg>
</body></html>
